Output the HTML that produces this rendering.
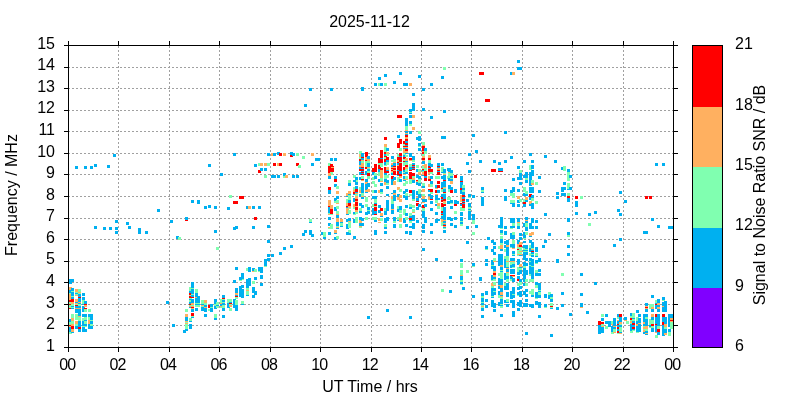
<!DOCTYPE html><html><head><meta charset="utf-8"><title>plot</title><style>html,body{margin:0;padding:0;background:#fff}svg{display:block;will-change:transform}text{font-family:"Liberation Sans",sans-serif;font-size:16px;fill:#000}</style></head><body>
<svg width="800" height="400" viewBox="0 0 800 400">
<rect width="800" height="400" fill="#fff"/>
<path d="M118.5 46V347M169.5 46V347M219.5 46V347M270.5 46V347M320.5 46V347M371.5 46V347M421.5 46V347M471.5 46V347M522.5 46V347M572.5 46V347M623.5 46V347" stroke="#a0a0a0" stroke-width="1" stroke-dasharray="2 2" fill="none" shape-rendering="crispEdges"/>
<path d="M68 325.5H673M68 304.5H673M68 282.5H673M68 261.5H673M68 239.5H673M68 218.5H673M68 196.5H673M68 174.5H673M68 153.5H673M68 131.5H673M68 110.5H673M68 88.5H673M68 67.5H673" stroke="#a0a0a0" stroke-width="1" stroke-dasharray="2 2" fill="none" shape-rendering="crispEdges"/>
<g shape-rendering="crispEdges"><rect x="75" y="166" width="3" height="3" fill="#00b0f0"/><rect x="84" y="166" width="3" height="3" fill="#00b0f0"/><rect x="90" y="166" width="3" height="3" fill="#00b0f0"/><rect x="94" y="164" width="3" height="3" fill="#00b0f0"/><rect x="107" y="165" width="3" height="3" fill="#00b0f0"/><rect x="113" y="154" width="3" height="3" fill="#00b0f0"/><rect x="208" y="164" width="3" height="3" fill="#00b0f0"/><rect x="220" y="173" width="3" height="3" fill="#00b0f0"/><rect x="233" y="153" width="3" height="3" fill="#00b0f0"/><rect x="254" y="164" width="3" height="3" fill="#00b0f0"/><rect x="258" y="163" width="3" height="3" fill="#80ffb0"/><rect x="258" y="170" width="3" height="3" fill="#ff0000"/><rect x="267" y="153" width="3" height="3" fill="#00b0f0"/><rect x="271" y="153" width="3" height="3" fill="#ffb060"/><rect x="273" y="153" width="3" height="3" fill="#00b0f0"/><rect x="277" y="152" width="3" height="3" fill="#00b0f0"/><rect x="279" y="153" width="3" height="3" fill="#ff0000"/><rect x="283" y="153" width="3" height="3" fill="#ffb060"/><rect x="290" y="154" width="3" height="3" fill="#ff0000"/><rect x="290" y="152" width="3" height="3" fill="#00b0f0"/><rect x="292" y="153" width="3" height="3" fill="#00b0f0"/><rect x="296" y="153" width="3" height="3" fill="#80ffb0"/><rect x="302" y="156" width="3" height="3" fill="#80ffb0"/><rect x="311" y="153" width="3" height="3" fill="#ffb060"/><rect x="315" y="158" width="3" height="3" fill="#00b0f0"/><rect x="317" y="158" width="3" height="3" fill="#00b0f0"/><rect x="260" y="163" width="3" height="3" fill="#ffb060"/><rect x="264" y="163" width="3" height="3" fill="#ffb060"/><rect x="267" y="163" width="3" height="3" fill="#80ffb0"/><rect x="273" y="163" width="3" height="3" fill="#ff0000"/><rect x="277" y="163" width="3" height="3" fill="#ffb060"/><rect x="279" y="163" width="3" height="3" fill="#ff0000"/><rect x="296" y="163" width="3" height="3" fill="#ff0000"/><rect x="298" y="165" width="3" height="3" fill="#80ffb0"/><rect x="311" y="163" width="3" height="3" fill="#00b0f0"/><rect x="260" y="168" width="3" height="3" fill="#00b0f0"/><rect x="264" y="168" width="3" height="3" fill="#00b0f0"/><rect x="264" y="175" width="3" height="3" fill="#80ffb0"/><rect x="271" y="175" width="3" height="3" fill="#00b0f0"/><rect x="273" y="175" width="3" height="3" fill="#00b0f0"/><rect x="277" y="175" width="3" height="3" fill="#00b0f0"/><rect x="283" y="175" width="3" height="3" fill="#80ffb0"/><rect x="283" y="173" width="3" height="3" fill="#00b0f0"/><rect x="285" y="175" width="3" height="3" fill="#ffb060"/><rect x="292" y="175" width="3" height="3" fill="#00b0f0"/><rect x="296" y="175" width="3" height="3" fill="#00b0f0"/><rect x="330" y="158" width="3" height="3" fill="#00b0f0"/><rect x="334" y="158" width="3" height="3" fill="#00b0f0"/><rect x="328" y="163" width="3" height="3" fill="#80ffb0"/><rect x="330" y="164" width="3" height="3" fill="#ff0000"/><rect x="328" y="166" width="3" height="7" fill="#ff0000"/><rect x="331" y="166" width="3" height="6" fill="#ff0000"/><rect x="330" y="172" width="3" height="3" fill="#80ffb0"/><rect x="328" y="173" width="3" height="3" fill="#ffb060"/><rect x="328" y="176" width="3" height="3" fill="#00b0f0"/><rect x="334" y="176" width="3" height="3" fill="#00b0f0"/><rect x="334" y="179" width="3" height="3" fill="#ff0000"/><rect x="334" y="184" width="3" height="3" fill="#00b0f0"/><rect x="336" y="186" width="3" height="3" fill="#80ffb0"/><rect x="328" y="187" width="3" height="3" fill="#ff0000"/><rect x="348" y="180" width="3" height="3" fill="#80ffb0"/><rect x="348" y="183" width="3" height="3" fill="#00b0f0"/><rect x="353" y="175" width="3" height="3" fill="#80ffb0"/><rect x="353" y="187" width="3" height="3" fill="#80ffb0"/><rect x="355" y="177" width="3" height="3" fill="#00b0f0"/><rect x="355" y="180" width="3" height="2" fill="#80ffb0"/><rect x="353" y="180" width="3" height="2" fill="#00b0f0"/><rect x="355" y="182" width="3" height="3" fill="#00b0f0"/><rect x="355" y="186" width="3" height="3" fill="#00b0f0"/><rect x="355" y="189" width="3" height="3" fill="#ff0000"/><rect x="359" y="151" width="3" height="3" fill="#80ffb0"/><rect x="359" y="154" width="3" height="3" fill="#ffb060"/><rect x="359" y="157" width="3" height="2" fill="#80ffb0"/><rect x="359" y="159" width="3" height="2" fill="#ff0000"/><rect x="359" y="161" width="3" height="4" fill="#00b0f0"/><rect x="359" y="165" width="3" height="2" fill="#ffb060"/><rect x="359" y="167" width="3" height="2" fill="#00b0f0"/><rect x="359" y="169" width="3" height="2" fill="#ff0000"/><rect x="359" y="172" width="3" height="3" fill="#00b0f0"/><rect x="359" y="177" width="3" height="3" fill="#00b0f0"/><rect x="359" y="187" width="3" height="3" fill="#80ffb0"/><rect x="361" y="153" width="3" height="4" fill="#00b0f0"/><rect x="361" y="157" width="3" height="1" fill="#ff0000"/><rect x="361" y="158" width="3" height="2" fill="#00b0f0"/><rect x="361" y="160" width="3" height="1" fill="#ffb060"/><rect x="361" y="161" width="3" height="2" fill="#80ffb0"/><rect x="361" y="163" width="3" height="4" fill="#ffb060"/><rect x="361" y="167" width="3" height="1" fill="#ff0000"/><rect x="361" y="168" width="3" height="1" fill="#00b0f0"/><rect x="361" y="169" width="3" height="2" fill="#ff0000"/><rect x="361" y="171" width="3" height="1" fill="#00b0f0"/><rect x="361" y="172" width="3" height="1" fill="#ff0000"/><rect x="361" y="173" width="3" height="1" fill="#00b0f0"/><rect x="361" y="174" width="3" height="1" fill="#ff0000"/><rect x="361" y="176" width="3" height="3" fill="#80ffb0"/><rect x="361" y="179" width="3" height="1" fill="#ff0000"/><rect x="361" y="180" width="3" height="1" fill="#ffb060"/><rect x="361" y="183" width="3" height="7" fill="#00b0f0"/><rect x="365" y="152" width="3" height="5" fill="#ff0000"/><rect x="365" y="157" width="3" height="3" fill="#ffb060"/><rect x="365" y="160" width="3" height="1" fill="#ff0000"/><rect x="365" y="161" width="3" height="6" fill="#80ffb0"/><rect x="365" y="167" width="3" height="2" fill="#ff0000"/><rect x="365" y="171" width="3" height="4" fill="#00b0f0"/><rect x="365" y="179" width="3" height="3" fill="#00b0f0"/><rect x="365" y="182" width="3" height="2" fill="#ffb060"/><rect x="365" y="184" width="3" height="6" fill="#00b0f0"/><rect x="367" y="156" width="3" height="3" fill="#00b0f0"/><rect x="367" y="159" width="3" height="2" fill="#ffb060"/><rect x="367" y="161" width="3" height="2" fill="#80ffb0"/><rect x="367" y="163" width="3" height="4" fill="#00b0f0"/><rect x="367" y="167" width="3" height="1" fill="#ffb060"/><rect x="367" y="168" width="3" height="1" fill="#80ffb0"/><rect x="367" y="169" width="3" height="2" fill="#00b0f0"/><rect x="367" y="171" width="3" height="2" fill="#80ffb0"/><rect x="367" y="173" width="3" height="3" fill="#ff0000"/><rect x="367" y="176" width="3" height="3" fill="#80ffb0"/><rect x="367" y="183" width="3" height="4" fill="#00b0f0"/><rect x="367" y="189" width="3" height="2" fill="#ffb060"/><rect x="372" y="168" width="3" height="4" fill="#ff0000"/><rect x="372" y="172" width="3" height="3" fill="#00b0f0"/><rect x="372" y="177" width="3" height="3" fill="#80ffb0"/><rect x="372" y="181" width="3" height="3" fill="#80ffb0"/><rect x="374" y="164" width="3" height="8" fill="#ff0000"/><rect x="374" y="173" width="3" height="3" fill="#80ffb0"/><rect x="374" y="176" width="3" height="3" fill="#00b0f0"/><rect x="374" y="184" width="3" height="3" fill="#80ffb0"/><rect x="378" y="158" width="3" height="5" fill="#ff0000"/><rect x="378" y="163" width="3" height="2" fill="#80ffb0"/><rect x="378" y="165" width="3" height="4" fill="#ff0000"/><rect x="378" y="169" width="3" height="3" fill="#00b0f0"/><rect x="378" y="172" width="3" height="4" fill="#80ffb0"/><rect x="378" y="179" width="3" height="3" fill="#00b0f0"/><rect x="380" y="150" width="3" height="8" fill="#ff0000"/><rect x="380" y="158" width="3" height="1" fill="#00b0f0"/><rect x="380" y="159" width="3" height="4" fill="#ff0000"/><rect x="380" y="163" width="3" height="4" fill="#80ffb0"/><rect x="380" y="168" width="3" height="2" fill="#ff0000"/><rect x="380" y="170" width="3" height="8" fill="#ffb060"/><rect x="380" y="178" width="3" height="3" fill="#80ffb0"/><rect x="380" y="181" width="3" height="1" fill="#ffb060"/><rect x="380" y="183" width="3" height="3" fill="#00b0f0"/><rect x="380" y="189" width="3" height="2" fill="#00b0f0"/><rect x="328" y="190" width="3" height="4" fill="#00b0f0"/><rect x="328" y="200" width="3" height="6" fill="#ffb060"/><rect x="328" y="206" width="3" height="1" fill="#ff0000"/><rect x="328" y="207" width="3" height="6" fill="#00b0f0"/><rect x="328" y="213" width="3" height="1" fill="#80ffb0"/><rect x="328" y="214" width="3" height="1" fill="#ffb060"/><rect x="328" y="217" width="3" height="3" fill="#00b0f0"/><rect x="330" y="205" width="3" height="4" fill="#ffb060"/><rect x="330" y="209" width="3" height="5" fill="#ff0000"/><rect x="330" y="214" width="3" height="1" fill="#80ffb0"/><rect x="334" y="198" width="3" height="3" fill="#00b0f0"/><rect x="334" y="201" width="3" height="2" fill="#80ffb0"/><rect x="334" y="207" width="3" height="4" fill="#00b0f0"/><rect x="336" y="191" width="3" height="3" fill="#ffb060"/><rect x="336" y="196" width="3" height="3" fill="#00b0f0"/><rect x="336" y="200" width="3" height="3" fill="#80ffb0"/><rect x="336" y="203" width="3" height="1" fill="#ffb060"/><rect x="336" y="206" width="3" height="3" fill="#80ffb0"/><rect x="336" y="211" width="3" height="3" fill="#80ffb0"/><rect x="336" y="214" width="3" height="1" fill="#ffb060"/><rect x="336" y="215" width="3" height="3" fill="#00b0f0"/><rect x="336" y="218" width="3" height="4" fill="#ffb060"/><rect x="340" y="219" width="3" height="3" fill="#ffb060"/><rect x="346" y="193" width="3" height="3" fill="#ffb060"/><rect x="346" y="196" width="3" height="1" fill="#00b0f0"/><rect x="346" y="199" width="3" height="4" fill="#80ffb0"/><rect x="346" y="203" width="3" height="3" fill="#ffb060"/><rect x="346" y="206" width="3" height="1" fill="#ff0000"/><rect x="346" y="207" width="3" height="1" fill="#00b0f0"/><rect x="346" y="208" width="3" height="6" fill="#ffb060"/><rect x="346" y="214" width="3" height="1" fill="#00b0f0"/><rect x="346" y="219" width="3" height="3" fill="#00b0f0"/><rect x="348" y="191" width="3" height="3" fill="#ffb060"/><rect x="348" y="194" width="3" height="1" fill="#00b0f0"/><rect x="348" y="195" width="3" height="5" fill="#80ffb0"/><rect x="348" y="200" width="3" height="3" fill="#00b0f0"/><rect x="348" y="203" width="3" height="3" fill="#ff0000"/><rect x="348" y="206" width="3" height="2" fill="#ffb060"/><rect x="348" y="208" width="3" height="1" fill="#80ffb0"/><rect x="348" y="210" width="3" height="4" fill="#80ffb0"/><rect x="348" y="218" width="3" height="3" fill="#00b0f0"/><rect x="348" y="221" width="3" height="1" fill="#ffb060"/><rect x="353" y="190" width="3" height="2" fill="#ffb060"/><rect x="353" y="192" width="3" height="2" fill="#ff0000"/><rect x="353" y="194" width="3" height="1" fill="#00b0f0"/><rect x="353" y="198" width="3" height="4" fill="#00b0f0"/><rect x="353" y="204" width="3" height="3" fill="#ffb060"/><rect x="353" y="207" width="3" height="2" fill="#80ffb0"/><rect x="353" y="212" width="3" height="2" fill="#00b0f0"/><rect x="353" y="214" width="3" height="1" fill="#80ffb0"/><rect x="353" y="219" width="3" height="3" fill="#00b0f0"/><rect x="355" y="190" width="3" height="2" fill="#ff0000"/><rect x="355" y="192" width="3" height="1" fill="#00b0f0"/><rect x="355" y="193" width="3" height="1" fill="#ffb060"/><rect x="355" y="194" width="3" height="2" fill="#80ffb0"/><rect x="355" y="196" width="3" height="3" fill="#ffb060"/><rect x="355" y="199" width="3" height="2" fill="#ff0000"/><rect x="355" y="201" width="3" height="1" fill="#ffb060"/><rect x="355" y="202" width="3" height="4" fill="#ff0000"/><rect x="355" y="206" width="3" height="1" fill="#ffb060"/><rect x="355" y="207" width="3" height="3" fill="#ff0000"/><rect x="355" y="210" width="3" height="2" fill="#ffb060"/><rect x="355" y="212" width="3" height="2" fill="#80ffb0"/><rect x="355" y="217" width="3" height="5" fill="#80ffb0"/><rect x="359" y="190" width="3" height="3" fill="#ffb060"/><rect x="359" y="194" width="3" height="3" fill="#00b0f0"/><rect x="359" y="203" width="3" height="3" fill="#00b0f0"/><rect x="359" y="208" width="3" height="3" fill="#80ffb0"/><rect x="359" y="211" width="3" height="2" fill="#00b0f0"/><rect x="359" y="217" width="3" height="3" fill="#00b0f0"/><rect x="359" y="220" width="3" height="2" fill="#ffb060"/><rect x="361" y="190" width="3" height="3" fill="#00b0f0"/><rect x="361" y="193" width="3" height="3" fill="#80ffb0"/><rect x="361" y="196" width="3" height="1" fill="#ffb060"/><rect x="361" y="197" width="3" height="2" fill="#00b0f0"/><rect x="361" y="205" width="3" height="3" fill="#00b0f0"/><rect x="361" y="218" width="3" height="3" fill="#00b0f0"/><rect x="365" y="190" width="3" height="2" fill="#ffb060"/><rect x="365" y="192" width="3" height="1" fill="#00b0f0"/><rect x="365" y="197" width="3" height="5" fill="#80ffb0"/><rect x="365" y="204" width="3" height="3" fill="#80ffb0"/><rect x="365" y="212" width="3" height="3" fill="#00b0f0"/><rect x="365" y="217" width="3" height="3" fill="#80ffb0"/><rect x="367" y="190" width="3" height="2" fill="#ffb060"/><rect x="367" y="207" width="3" height="3" fill="#00b0f0"/><rect x="367" y="210" width="3" height="1" fill="#80ffb0"/><rect x="367" y="211" width="3" height="3" fill="#00b0f0"/><rect x="372" y="190" width="3" height="3" fill="#80ffb0"/><rect x="372" y="196" width="3" height="3" fill="#00b0f0"/><rect x="372" y="204" width="3" height="3" fill="#80ffb0"/><rect x="372" y="208" width="3" height="7" fill="#00b0f0"/><rect x="372" y="217" width="3" height="3" fill="#80ffb0"/><rect x="374" y="190" width="3" height="3" fill="#00b0f0"/><rect x="374" y="196" width="3" height="3" fill="#00b0f0"/><rect x="374" y="199" width="3" height="4" fill="#80ffb0"/><rect x="374" y="203" width="3" height="1" fill="#00b0f0"/><rect x="374" y="204" width="3" height="2" fill="#ff0000"/><rect x="374" y="206" width="3" height="1" fill="#80ffb0"/><rect x="374" y="207" width="3" height="4" fill="#ff0000"/><rect x="374" y="211" width="3" height="3" fill="#00b0f0"/><rect x="374" y="214" width="3" height="1" fill="#ff0000"/><rect x="374" y="217" width="3" height="3" fill="#80ffb0"/><rect x="374" y="220" width="3" height="2" fill="#00b0f0"/><rect x="378" y="190" width="3" height="3" fill="#ffb060"/><rect x="378" y="205" width="3" height="3" fill="#00b0f0"/><rect x="378" y="210" width="3" height="3" fill="#00b0f0"/><rect x="378" y="218" width="3" height="3" fill="#ffb060"/><rect x="380" y="190" width="3" height="2" fill="#00b0f0"/><rect x="380" y="192" width="3" height="2" fill="#80ffb0"/><rect x="380" y="208" width="3" height="3" fill="#ff0000"/><rect x="380" y="213" width="3" height="3" fill="#ffb060"/><rect x="380" y="216" width="3" height="1" fill="#00b0f0"/><rect x="380" y="218" width="3" height="3" fill="#80ffb0"/><rect x="321" y="232" width="3" height="3" fill="#00b0f0"/><rect x="323" y="232" width="3" height="5" fill="#80ffb0"/><rect x="323" y="237" width="3" height="2" fill="#00b0f0"/><rect x="328" y="223" width="3" height="3" fill="#00b0f0"/><rect x="328" y="227" width="3" height="1" fill="#ffb060"/><rect x="328" y="228" width="3" height="1" fill="#80ffb0"/><rect x="330" y="224" width="3" height="5" fill="#80ffb0"/><rect x="328" y="232" width="3" height="3" fill="#00b0f0"/><rect x="334" y="230" width="3" height="3" fill="#ffb060"/><rect x="334" y="233" width="3" height="1" fill="#00b0f0"/><rect x="334" y="237" width="3" height="3" fill="#00b0f0"/><rect x="336" y="222" width="3" height="4" fill="#00b0f0"/><rect x="336" y="226" width="3" height="1" fill="#80ffb0"/><rect x="336" y="227" width="3" height="1" fill="#ffb060"/><rect x="336" y="228" width="3" height="1" fill="#00b0f0"/><rect x="336" y="236" width="3" height="3" fill="#80ffb0"/><rect x="340" y="222" width="3" height="1" fill="#00b0f0"/><rect x="340" y="223" width="3" height="3" fill="#80ffb0"/><rect x="340" y="226" width="3" height="1" fill="#00b0f0"/><rect x="346" y="224" width="3" height="5" fill="#00b0f0"/><rect x="348" y="222" width="3" height="2" fill="#80ffb0"/><rect x="348" y="224" width="3" height="4" fill="#80ffb0"/><rect x="348" y="230" width="3" height="3" fill="#80ffb0"/><rect x="346" y="232" width="3" height="3" fill="#00b0f0"/><rect x="348" y="233" width="3" height="2" fill="#00b0f0"/><rect x="353" y="222" width="3" height="1" fill="#00b0f0"/><rect x="355" y="222" width="3" height="1" fill="#80ffb0"/><rect x="353" y="236" width="3" height="3" fill="#00b0f0"/><rect x="359" y="222" width="3" height="1" fill="#ffb060"/><rect x="359" y="223" width="3" height="3" fill="#00b0f0"/><rect x="361" y="223" width="3" height="3" fill="#00b0f0"/><rect x="359" y="226" width="3" height="1" fill="#ffb060"/><rect x="359" y="227" width="3" height="1" fill="#80ffb0"/><rect x="374" y="230" width="3" height="5" fill="#00b0f0"/><rect x="378" y="222" width="3" height="1" fill="#ffb060"/><rect x="384" y="137" width="3" height="3" fill="#ff0000"/><rect x="384" y="144" width="3" height="3" fill="#ffb060"/><rect x="384" y="147" width="3" height="5" fill="#80ffb0"/><rect x="384" y="152" width="3" height="2" fill="#ff0000"/><rect x="384" y="154" width="3" height="2" fill="#00b0f0"/><rect x="384" y="156" width="3" height="1" fill="#ff0000"/><rect x="384" y="157" width="3" height="2" fill="#80ffb0"/><rect x="384" y="159" width="3" height="3" fill="#ff0000"/><rect x="386" y="148" width="3" height="3" fill="#00b0f0"/><rect x="386" y="152" width="3" height="2" fill="#ffb060"/><rect x="386" y="154" width="3" height="2" fill="#80ffb0"/><rect x="386" y="157" width="3" height="3" fill="#ff0000"/><rect x="386" y="160" width="3" height="2" fill="#00b0f0"/><rect x="391" y="156" width="3" height="3" fill="#00b0f0"/><rect x="391" y="160" width="3" height="2" fill="#80ffb0"/><rect x="393" y="159" width="3" height="3" fill="#80ffb0"/><rect x="397" y="135" width="3" height="3" fill="#00b0f0"/><rect x="397" y="143" width="3" height="5" fill="#ff0000"/><rect x="397" y="154" width="3" height="3" fill="#80ffb0"/><rect x="397" y="157" width="3" height="3" fill="#ff0000"/><rect x="397" y="160" width="3" height="2" fill="#ffb060"/><rect x="399" y="139" width="3" height="5" fill="#ff0000"/><rect x="399" y="148" width="3" height="3" fill="#80ffb0"/><rect x="399" y="153" width="3" height="3" fill="#ff0000"/><rect x="399" y="156" width="3" height="1" fill="#00b0f0"/><rect x="399" y="157" width="3" height="5" fill="#ff0000"/><rect x="403" y="141" width="3" height="3" fill="#ff0000"/><rect x="403" y="144" width="3" height="2" fill="#80ffb0"/><rect x="403" y="146" width="3" height="1" fill="#ff0000"/><rect x="403" y="147" width="3" height="1" fill="#ffb060"/><rect x="403" y="148" width="3" height="1" fill="#00b0f0"/><rect x="403" y="149" width="3" height="4" fill="#ffb060"/><rect x="403" y="153" width="3" height="2" fill="#80ffb0"/><rect x="403" y="155" width="3" height="2" fill="#00b0f0"/><rect x="403" y="157" width="3" height="2" fill="#ff0000"/><rect x="403" y="159" width="3" height="2" fill="#80ffb0"/><rect x="403" y="161" width="3" height="1" fill="#ff0000"/><rect x="405" y="130" width="3" height="1" fill="#ffb060"/><rect x="405" y="131" width="3" height="2" fill="#00b0f0"/><rect x="405" y="133" width="3" height="1" fill="#ffb060"/><rect x="405" y="134" width="3" height="1" fill="#00b0f0"/><rect x="405" y="135" width="3" height="2" fill="#ff0000"/><rect x="405" y="137" width="3" height="2" fill="#ffb060"/><rect x="405" y="139" width="3" height="2" fill="#ff0000"/><rect x="405" y="141" width="3" height="2" fill="#00b0f0"/><rect x="405" y="143" width="3" height="2" fill="#ff0000"/><rect x="405" y="145" width="3" height="1" fill="#00b0f0"/><rect x="405" y="146" width="3" height="1" fill="#ff0000"/><rect x="405" y="147" width="3" height="1" fill="#ffb060"/><rect x="405" y="148" width="3" height="1" fill="#00b0f0"/><rect x="405" y="149" width="3" height="2" fill="#ff0000"/><rect x="405" y="151" width="3" height="2" fill="#ffb060"/><rect x="405" y="153" width="3" height="1" fill="#00b0f0"/><rect x="405" y="155" width="3" height="2" fill="#80ffb0"/><rect x="405" y="158" width="3" height="3" fill="#ffb060"/><rect x="405" y="161" width="3" height="1" fill="#00b0f0"/><rect x="409" y="131" width="3" height="3" fill="#00b0f0"/><rect x="409" y="153" width="3" height="4" fill="#00b0f0"/><rect x="409" y="158" width="3" height="2" fill="#ff0000"/><rect x="409" y="160" width="3" height="1" fill="#ffb060"/><rect x="412" y="156" width="3" height="4" fill="#00b0f0"/><rect x="412" y="160" width="3" height="2" fill="#80ffb0"/><rect x="416" y="137" width="3" height="3" fill="#00b0f0"/><rect x="418" y="131" width="3" height="3" fill="#80ffb0"/><rect x="418" y="136" width="3" height="5" fill="#00b0f0"/><rect x="418" y="143" width="3" height="3" fill="#00b0f0"/><rect x="418" y="146" width="3" height="1" fill="#80ffb0"/><rect x="418" y="148" width="3" height="3" fill="#00b0f0"/><rect x="422" y="142" width="3" height="3" fill="#80ffb0"/><rect x="422" y="145" width="3" height="1" fill="#ffb060"/><rect x="422" y="146" width="3" height="5" fill="#ff0000"/><rect x="422" y="151" width="3" height="1" fill="#ffb060"/><rect x="422" y="152" width="3" height="2" fill="#ff0000"/><rect x="422" y="154" width="3" height="2" fill="#80ffb0"/><rect x="422" y="156" width="3" height="2" fill="#ffb060"/><rect x="422" y="158" width="3" height="2" fill="#ff0000"/><rect x="422" y="160" width="3" height="1" fill="#ffb060"/><rect x="422" y="161" width="3" height="1" fill="#00b0f0"/><rect x="424" y="148" width="3" height="3" fill="#00b0f0"/><rect x="424" y="151" width="3" height="3" fill="#80ffb0"/><rect x="428" y="155" width="3" height="3" fill="#ffb060"/><rect x="428" y="158" width="3" height="2" fill="#ff0000"/><rect x="428" y="160" width="3" height="2" fill="#80ffb0"/><rect x="441" y="136" width="5" height="3" fill="#00b0f0"/><rect x="384" y="162" width="3" height="3" fill="#00b0f0"/><rect x="384" y="165" width="3" height="1" fill="#80ffb0"/><rect x="384" y="167" width="3" height="6" fill="#ff0000"/><rect x="384" y="173" width="3" height="2" fill="#00b0f0"/><rect x="384" y="175" width="3" height="4" fill="#80ffb0"/><rect x="384" y="179" width="3" height="3" fill="#00b0f0"/><rect x="384" y="182" width="3" height="3" fill="#ffb060"/><rect x="386" y="162" width="3" height="3" fill="#80ffb0"/><rect x="386" y="167" width="3" height="3" fill="#ffb060"/><rect x="386" y="170" width="3" height="1" fill="#00b0f0"/><rect x="386" y="171" width="3" height="2" fill="#ff0000"/><rect x="386" y="175" width="3" height="3" fill="#80ffb0"/><rect x="386" y="180" width="3" height="3" fill="#00b0f0"/><rect x="386" y="183" width="3" height="2" fill="#80ffb0"/><rect x="386" y="186" width="3" height="3" fill="#00b0f0"/><rect x="391" y="163" width="3" height="2" fill="#ffb060"/><rect x="391" y="165" width="3" height="2" fill="#00b0f0"/><rect x="391" y="167" width="3" height="1" fill="#ffb060"/><rect x="391" y="168" width="3" height="1" fill="#ff0000"/><rect x="391" y="169" width="3" height="1" fill="#ffb060"/><rect x="391" y="170" width="3" height="1" fill="#ff0000"/><rect x="391" y="171" width="3" height="1" fill="#ffb060"/><rect x="391" y="172" width="3" height="1" fill="#80ffb0"/><rect x="391" y="173" width="3" height="2" fill="#00b0f0"/><rect x="391" y="176" width="3" height="3" fill="#ff0000"/><rect x="391" y="179" width="3" height="6" fill="#00b0f0"/><rect x="391" y="193" width="3" height="1" fill="#00b0f0"/><rect x="393" y="162" width="3" height="1" fill="#ffb060"/><rect x="393" y="163" width="3" height="3" fill="#00b0f0"/><rect x="393" y="166" width="3" height="1" fill="#ff0000"/><rect x="393" y="167" width="3" height="1" fill="#ffb060"/><rect x="393" y="168" width="3" height="2" fill="#ff0000"/><rect x="393" y="170" width="3" height="1" fill="#ffb060"/><rect x="393" y="171" width="3" height="4" fill="#ff0000"/><rect x="393" y="177" width="3" height="3" fill="#00b0f0"/><rect x="393" y="181" width="3" height="4" fill="#ffb060"/><rect x="393" y="190" width="3" height="3" fill="#00b0f0"/><rect x="393" y="193" width="3" height="1" fill="#ffb060"/><rect x="397" y="162" width="3" height="1" fill="#ff0000"/><rect x="397" y="163" width="3" height="2" fill="#00b0f0"/><rect x="397" y="165" width="3" height="1" fill="#ffb060"/><rect x="397" y="166" width="3" height="4" fill="#ff0000"/><rect x="397" y="170" width="3" height="1" fill="#00b0f0"/><rect x="397" y="171" width="3" height="4" fill="#ff0000"/><rect x="397" y="175" width="3" height="1" fill="#00b0f0"/><rect x="397" y="177" width="3" height="5" fill="#80ffb0"/><rect x="397" y="187" width="3" height="3" fill="#ffb060"/><rect x="399" y="162" width="3" height="1" fill="#80ffb0"/><rect x="399" y="163" width="3" height="8" fill="#ff0000"/><rect x="399" y="171" width="3" height="3" fill="#00b0f0"/><rect x="399" y="174" width="3" height="2" fill="#ff0000"/><rect x="399" y="176" width="3" height="2" fill="#ffb060"/><rect x="399" y="179" width="3" height="3" fill="#00b0f0"/><rect x="399" y="189" width="3" height="3" fill="#80ffb0"/><rect x="403" y="162" width="3" height="4" fill="#80ffb0"/><rect x="403" y="167" width="3" height="3" fill="#ff0000"/><rect x="403" y="170" width="3" height="2" fill="#00b0f0"/><rect x="403" y="172" width="3" height="1" fill="#80ffb0"/><rect x="403" y="173" width="3" height="1" fill="#00b0f0"/><rect x="403" y="174" width="3" height="1" fill="#ffb060"/><rect x="403" y="176" width="3" height="3" fill="#00b0f0"/><rect x="403" y="179" width="3" height="1" fill="#ffb060"/><rect x="403" y="180" width="3" height="1" fill="#00b0f0"/><rect x="403" y="183" width="3" height="3" fill="#80ffb0"/><rect x="403" y="191" width="3" height="3" fill="#00b0f0"/><rect x="405" y="162" width="3" height="3" fill="#80ffb0"/><rect x="405" y="165" width="3" height="2" fill="#ff0000"/><rect x="405" y="167" width="3" height="2" fill="#ffb060"/><rect x="405" y="169" width="3" height="3" fill="#80ffb0"/><rect x="405" y="172" width="3" height="2" fill="#00b0f0"/><rect x="405" y="176" width="3" height="3" fill="#80ffb0"/><rect x="405" y="179" width="3" height="1" fill="#ffb060"/><rect x="405" y="181" width="3" height="3" fill="#80ffb0"/><rect x="405" y="189" width="3" height="3" fill="#00b0f0"/><rect x="405" y="193" width="3" height="1" fill="#80ffb0"/><rect x="409" y="164" width="3" height="3" fill="#80ffb0"/><rect x="409" y="167" width="3" height="3" fill="#00b0f0"/><rect x="409" y="170" width="3" height="1" fill="#ff0000"/><rect x="409" y="172" width="3" height="7" fill="#ff0000"/><rect x="409" y="179" width="3" height="5" fill="#80ffb0"/><rect x="409" y="190" width="3" height="3" fill="#ff0000"/><rect x="412" y="163" width="3" height="2" fill="#00b0f0"/><rect x="412" y="165" width="3" height="1" fill="#ff0000"/><rect x="412" y="166" width="3" height="1" fill="#00b0f0"/><rect x="412" y="167" width="3" height="1" fill="#ff0000"/><rect x="412" y="168" width="3" height="1" fill="#00b0f0"/><rect x="412" y="169" width="3" height="1" fill="#ff0000"/><rect x="412" y="173" width="3" height="3" fill="#ff0000"/><rect x="412" y="176" width="3" height="2" fill="#80ffb0"/><rect x="412" y="178" width="3" height="2" fill="#ffb060"/><rect x="412" y="180" width="3" height="3" fill="#00b0f0"/><rect x="412" y="190" width="3" height="4" fill="#00b0f0"/><rect x="416" y="165" width="3" height="3" fill="#80ffb0"/><rect x="416" y="169" width="3" height="3" fill="#00b0f0"/><rect x="416" y="175" width="3" height="3" fill="#00b0f0"/><rect x="416" y="180" width="3" height="1" fill="#ff0000"/><rect x="416" y="181" width="3" height="1" fill="#ffb060"/><rect x="416" y="182" width="3" height="3" fill="#00b0f0"/><rect x="416" y="191" width="3" height="3" fill="#00b0f0"/><rect x="418" y="169" width="3" height="3" fill="#80ffb0"/><rect x="418" y="172" width="3" height="3" fill="#ffb060"/><rect x="418" y="176" width="3" height="3" fill="#00b0f0"/><rect x="418" y="179" width="3" height="4" fill="#80ffb0"/><rect x="418" y="183" width="3" height="3" fill="#00b0f0"/><rect x="418" y="189" width="3" height="5" fill="#80ffb0"/><rect x="422" y="162" width="3" height="2" fill="#00b0f0"/><rect x="422" y="165" width="3" height="1" fill="#ffb060"/><rect x="422" y="166" width="3" height="3" fill="#80ffb0"/><rect x="422" y="169" width="3" height="1" fill="#ff0000"/><rect x="422" y="170" width="3" height="1" fill="#00b0f0"/><rect x="422" y="171" width="3" height="1" fill="#80ffb0"/><rect x="422" y="172" width="3" height="3" fill="#ffb060"/><rect x="422" y="175" width="3" height="1" fill="#00b0f0"/><rect x="422" y="183" width="3" height="3" fill="#80ffb0"/><rect x="422" y="186" width="3" height="2" fill="#00b0f0"/><rect x="422" y="189" width="3" height="3" fill="#ffb060"/><rect x="424" y="164" width="3" height="4" fill="#ffb060"/><rect x="424" y="168" width="3" height="3" fill="#80ffb0"/><rect x="424" y="171" width="3" height="5" fill="#ff0000"/><rect x="424" y="176" width="3" height="2" fill="#00b0f0"/><rect x="424" y="178" width="3" height="3" fill="#ff0000"/><rect x="428" y="162" width="3" height="1" fill="#80ffb0"/><rect x="428" y="163" width="3" height="3" fill="#00b0f0"/><rect x="428" y="166" width="3" height="2" fill="#ff0000"/><rect x="428" y="168" width="3" height="1" fill="#00b0f0"/><rect x="428" y="169" width="3" height="3" fill="#ff0000"/><rect x="428" y="172" width="3" height="2" fill="#ffb060"/><rect x="428" y="176" width="3" height="3" fill="#ffb060"/><rect x="428" y="179" width="3" height="2" fill="#ff0000"/><rect x="428" y="184" width="3" height="3" fill="#ffb060"/><rect x="428" y="189" width="3" height="1" fill="#ff0000"/><rect x="428" y="190" width="3" height="2" fill="#00b0f0"/><rect x="430" y="164" width="3" height="3" fill="#00b0f0"/><rect x="430" y="169" width="3" height="3" fill="#ff0000"/><rect x="430" y="172" width="3" height="2" fill="#80ffb0"/><rect x="430" y="176" width="3" height="3" fill="#00b0f0"/><rect x="430" y="181" width="3" height="3" fill="#00b0f0"/><rect x="430" y="184" width="3" height="3" fill="#80ffb0"/><rect x="430" y="189" width="3" height="3" fill="#ff0000"/><rect x="430" y="192" width="3" height="2" fill="#80ffb0"/><rect x="435" y="176" width="3" height="3" fill="#80ffb0"/><rect x="435" y="185" width="3" height="3" fill="#00b0f0"/><rect x="435" y="188" width="3" height="1" fill="#ffb060"/><rect x="435" y="190" width="3" height="3" fill="#ff0000"/><rect x="437" y="163" width="3" height="3" fill="#00b0f0"/><rect x="437" y="166" width="3" height="1" fill="#ff0000"/><rect x="437" y="167" width="3" height="1" fill="#00b0f0"/><rect x="437" y="168" width="3" height="2" fill="#ffb060"/><rect x="437" y="170" width="3" height="1" fill="#ff0000"/><rect x="437" y="171" width="3" height="1" fill="#00b0f0"/><rect x="437" y="172" width="3" height="3" fill="#ff0000"/><rect x="437" y="176" width="3" height="3" fill="#80ffb0"/><rect x="437" y="181" width="3" height="3" fill="#ff0000"/><rect x="437" y="185" width="3" height="3" fill="#ff0000"/><rect x="437" y="190" width="3" height="3" fill="#00b0f0"/><rect x="441" y="163" width="3" height="3" fill="#00b0f0"/><rect x="441" y="167" width="3" height="5" fill="#80ffb0"/><rect x="441" y="172" width="3" height="1" fill="#00b0f0"/><rect x="441" y="176" width="3" height="3" fill="#00b0f0"/><rect x="441" y="182" width="3" height="6" fill="#00b0f0"/><rect x="441" y="188" width="3" height="1" fill="#ff0000"/><rect x="441" y="189" width="3" height="3" fill="#80ffb0"/><rect x="443" y="169" width="3" height="4" fill="#00b0f0"/><rect x="443" y="173" width="3" height="1" fill="#80ffb0"/><rect x="443" y="174" width="3" height="1" fill="#ffb060"/><rect x="443" y="175" width="3" height="5" fill="#00b0f0"/><rect x="443" y="180" width="3" height="1" fill="#ff0000"/><rect x="443" y="181" width="3" height="6" fill="#00b0f0"/><rect x="443" y="187" width="3" height="1" fill="#ffb060"/><rect x="443" y="188" width="3" height="1" fill="#80ffb0"/><rect x="443" y="189" width="3" height="3" fill="#00b0f0"/><rect x="443" y="192" width="3" height="1" fill="#ff0000"/><rect x="443" y="193" width="3" height="1" fill="#80ffb0"/><rect x="447" y="168" width="3" height="3" fill="#00b0f0"/><rect x="447" y="176" width="3" height="3" fill="#80ffb0"/><rect x="384" y="208" width="3" height="3" fill="#80ffb0"/><rect x="384" y="211" width="3" height="4" fill="#00b0f0"/><rect x="384" y="218" width="3" height="5" fill="#00b0f0"/><rect x="384" y="224" width="3" height="2" fill="#80ffb0"/><rect x="386" y="194" width="3" height="2" fill="#00b0f0"/><rect x="386" y="200" width="3" height="11" fill="#00b0f0"/><rect x="386" y="217" width="3" height="4" fill="#00b0f0"/><rect x="391" y="196" width="3" height="3" fill="#ffb060"/><rect x="391" y="199" width="3" height="5" fill="#80ffb0"/><rect x="391" y="204" width="3" height="5" fill="#00b0f0"/><rect x="391" y="209" width="3" height="1" fill="#ffb060"/><rect x="391" y="210" width="3" height="4" fill="#00b0f0"/><rect x="393" y="194" width="3" height="1" fill="#ffb060"/><rect x="393" y="195" width="3" height="6" fill="#00b0f0"/><rect x="393" y="217" width="3" height="4" fill="#00b0f0"/><rect x="393" y="221" width="3" height="2" fill="#80ffb0"/><rect x="393" y="224" width="3" height="2" fill="#00b0f0"/><rect x="397" y="194" width="3" height="3" fill="#00b0f0"/><rect x="397" y="197" width="3" height="3" fill="#ffb060"/><rect x="397" y="206" width="3" height="3" fill="#80ffb0"/><rect x="397" y="209" width="3" height="3" fill="#00b0f0"/><rect x="397" y="217" width="3" height="3" fill="#80ffb0"/><rect x="397" y="220" width="3" height="1" fill="#00b0f0"/><rect x="399" y="195" width="3" height="3" fill="#ffb060"/><rect x="399" y="199" width="3" height="3" fill="#ffb060"/><rect x="399" y="206" width="3" height="4" fill="#00b0f0"/><rect x="399" y="210" width="3" height="3" fill="#80ffb0"/><rect x="399" y="214" width="3" height="4" fill="#80ffb0"/><rect x="399" y="218" width="3" height="4" fill="#ffb060"/><rect x="399" y="224" width="3" height="2" fill="#80ffb0"/><rect x="403" y="195" width="3" height="3" fill="#00b0f0"/><rect x="403" y="209" width="3" height="6" fill="#80ffb0"/><rect x="403" y="218" width="3" height="5" fill="#00b0f0"/><rect x="405" y="194" width="3" height="2" fill="#80ffb0"/><rect x="405" y="196" width="3" height="4" fill="#00b0f0"/><rect x="405" y="205" width="3" height="3" fill="#00b0f0"/><rect x="405" y="213" width="3" height="3" fill="#00b0f0"/><rect x="405" y="217" width="3" height="3" fill="#80ffb0"/><rect x="405" y="224" width="3" height="2" fill="#00b0f0"/><rect x="409" y="194" width="3" height="2" fill="#80ffb0"/><rect x="409" y="204" width="3" height="3" fill="#80ffb0"/><rect x="409" y="207" width="3" height="2" fill="#00b0f0"/><rect x="409" y="213" width="3" height="3" fill="#80ffb0"/><rect x="409" y="216" width="3" height="2" fill="#00b0f0"/><rect x="409" y="218" width="3" height="2" fill="#ff0000"/><rect x="409" y="220" width="3" height="1" fill="#00b0f0"/><rect x="409" y="221" width="3" height="2" fill="#80ffb0"/><rect x="412" y="194" width="3" height="5" fill="#00b0f0"/><rect x="412" y="199" width="3" height="2" fill="#80ffb0"/><rect x="412" y="205" width="3" height="3" fill="#80ffb0"/><rect x="412" y="209" width="3" height="3" fill="#80ffb0"/><rect x="412" y="212" width="3" height="1" fill="#ffb060"/><rect x="412" y="215" width="3" height="6" fill="#00b0f0"/><rect x="412" y="223" width="3" height="3" fill="#00b0f0"/><rect x="416" y="194" width="3" height="1" fill="#00b0f0"/><rect x="416" y="197" width="3" height="1" fill="#ffb060"/><rect x="416" y="198" width="3" height="3" fill="#00b0f0"/><rect x="416" y="201" width="3" height="1" fill="#ff0000"/><rect x="416" y="203" width="3" height="3" fill="#ff0000"/><rect x="416" y="207" width="3" height="3" fill="#00b0f0"/><rect x="416" y="220" width="3" height="3" fill="#00b0f0"/><rect x="418" y="194" width="3" height="4" fill="#00b0f0"/><rect x="418" y="204" width="3" height="3" fill="#00b0f0"/><rect x="422" y="194" width="3" height="2" fill="#80ffb0"/><rect x="422" y="196" width="3" height="3" fill="#ffb060"/><rect x="422" y="199" width="3" height="3" fill="#00b0f0"/><rect x="422" y="202" width="3" height="1" fill="#ffb060"/><rect x="422" y="205" width="3" height="3" fill="#ff0000"/><rect x="422" y="208" width="3" height="3" fill="#80ffb0"/><rect x="422" y="211" width="3" height="7" fill="#00b0f0"/><rect x="422" y="224" width="3" height="2" fill="#00b0f0"/><rect x="424" y="199" width="3" height="3" fill="#00b0f0"/><rect x="424" y="204" width="3" height="3" fill="#00b0f0"/><rect x="424" y="217" width="3" height="6" fill="#00b0f0"/><rect x="428" y="194" width="3" height="2" fill="#00b0f0"/><rect x="428" y="197" width="3" height="3" fill="#ffb060"/><rect x="430" y="195" width="3" height="4" fill="#00b0f0"/><rect x="430" y="199" width="3" height="1" fill="#ff0000"/><rect x="430" y="201" width="3" height="3" fill="#00b0f0"/><rect x="430" y="208" width="3" height="3" fill="#00b0f0"/><rect x="430" y="223" width="3" height="3" fill="#00b0f0"/><rect x="435" y="194" width="3" height="1" fill="#ffb060"/><rect x="435" y="195" width="3" height="5" fill="#00b0f0"/><rect x="435" y="200" width="3" height="3" fill="#80ffb0"/><rect x="435" y="204" width="3" height="2" fill="#00b0f0"/><rect x="435" y="212" width="3" height="3" fill="#00b0f0"/><rect x="435" y="219" width="3" height="4" fill="#00b0f0"/><rect x="437" y="198" width="3" height="2" fill="#00b0f0"/><rect x="437" y="203" width="3" height="3" fill="#ffb060"/><rect x="437" y="206" width="3" height="3" fill="#80ffb0"/><rect x="437" y="219" width="3" height="2" fill="#00b0f0"/><rect x="441" y="194" width="3" height="3" fill="#00b0f0"/><rect x="441" y="197" width="3" height="2" fill="#ff0000"/><rect x="441" y="199" width="3" height="1" fill="#00b0f0"/><rect x="441" y="200" width="3" height="2" fill="#ff0000"/><rect x="441" y="203" width="3" height="4" fill="#ff0000"/><rect x="441" y="207" width="3" height="4" fill="#80ffb0"/><rect x="441" y="211" width="3" height="2" fill="#ff0000"/><rect x="441" y="213" width="3" height="1" fill="#00b0f0"/><rect x="441" y="214" width="3" height="1" fill="#ff0000"/><rect x="441" y="215" width="3" height="1" fill="#80ffb0"/><rect x="441" y="216" width="3" height="3" fill="#00b0f0"/><rect x="441" y="219" width="3" height="3" fill="#ffb060"/><rect x="441" y="222" width="3" height="4" fill="#80ffb0"/><rect x="443" y="194" width="3" height="5" fill="#00b0f0"/><rect x="443" y="199" width="3" height="2" fill="#ff0000"/><rect x="443" y="201" width="3" height="2" fill="#ffb060"/><rect x="443" y="203" width="3" height="1" fill="#80ffb0"/><rect x="443" y="204" width="3" height="2" fill="#ff0000"/><rect x="443" y="207" width="3" height="13" fill="#00b0f0"/><rect x="443" y="220" width="3" height="1" fill="#ffb060"/><rect x="443" y="221" width="3" height="2" fill="#00b0f0"/><rect x="443" y="223" width="3" height="1" fill="#ffb060"/><rect x="443" y="224" width="3" height="1" fill="#00b0f0"/><rect x="443" y="225" width="3" height="1" fill="#ff0000"/><rect x="447" y="197" width="3" height="3" fill="#80ffb0"/><rect x="447" y="201" width="3" height="3" fill="#00b0f0"/><rect x="447" y="217" width="3" height="3" fill="#00b0f0"/><rect x="384" y="226" width="3" height="1" fill="#80ffb0"/><rect x="384" y="227" width="3" height="2" fill="#00b0f0"/><rect x="384" y="231" width="3" height="3" fill="#00b0f0"/><rect x="393" y="226" width="3" height="2" fill="#00b0f0"/><rect x="399" y="226" width="3" height="2" fill="#80ffb0"/><rect x="405" y="226" width="3" height="1" fill="#00b0f0"/><rect x="409" y="226" width="3" height="2" fill="#00b0f0"/><rect x="412" y="226" width="3" height="3" fill="#00b0f0"/><rect x="405" y="231" width="3" height="3" fill="#00b0f0"/><rect x="409" y="231" width="3" height="4" fill="#00b0f0"/><rect x="422" y="226" width="3" height="3" fill="#00b0f0"/><rect x="422" y="230" width="3" height="3" fill="#00b0f0"/><rect x="430" y="231" width="3" height="3" fill="#00b0f0"/><rect x="443" y="226" width="3" height="1" fill="#ffb060"/><rect x="443" y="227" width="3" height="1" fill="#00b0f0"/><rect x="443" y="228" width="3" height="1" fill="#80ffb0"/><rect x="443" y="230" width="3" height="3" fill="#00b0f0"/><rect x="422" y="248" width="3" height="3" fill="#00b0f0"/><rect x="504" y="131" width="3" height="3" fill="#00b0f0"/><rect x="472" y="134" width="3" height="3" fill="#00b0f0"/><rect x="475" y="150" width="3" height="3" fill="#00b0f0"/><rect x="468" y="153" width="3" height="3" fill="#00b0f0"/><rect x="510" y="156" width="3" height="3" fill="#00b0f0"/><rect x="479" y="160" width="3" height="3" fill="#00b0f0"/><rect x="493" y="160" width="3" height="3" fill="#00b0f0"/><rect x="504" y="160" width="3" height="3" fill="#00b0f0"/><rect x="466" y="162" width="3" height="3" fill="#00b0f0"/><rect x="498" y="162" width="3" height="3" fill="#00b0f0"/><rect x="468" y="170" width="3" height="3" fill="#00b0f0"/><rect x="491" y="169" width="5" height="3" fill="#ff0000"/><rect x="498" y="168" width="5" height="3" fill="#00b0f0"/><rect x="498" y="171" width="5" height="1" fill="#ff0000"/><rect x="448" y="168" width="3" height="4" fill="#00b0f0"/><rect x="448" y="172" width="3" height="1" fill="#ffb060"/><rect x="448" y="173" width="3" height="5" fill="#80ffb0"/><rect x="448" y="178" width="3" height="3" fill="#00b0f0"/><rect x="448" y="185" width="3" height="5" fill="#00b0f0"/><rect x="448" y="189" width="3" height="3" fill="#80ffb0"/><rect x="450" y="170" width="3" height="3" fill="#00b0f0"/><rect x="450" y="173" width="3" height="3" fill="#80ffb0"/><rect x="450" y="176" width="3" height="2" fill="#00b0f0"/><rect x="450" y="178" width="3" height="1" fill="#80ffb0"/><rect x="450" y="179" width="3" height="2" fill="#00b0f0"/><rect x="450" y="181" width="3" height="3" fill="#ffb060"/><rect x="450" y="187" width="3" height="3" fill="#00b0f0"/><rect x="450" y="190" width="3" height="3" fill="#ff0000"/><rect x="454" y="175" width="3" height="3" fill="#ff0000"/><rect x="454" y="189" width="3" height="4" fill="#00b0f0"/><rect x="460" y="176" width="3" height="5" fill="#00b0f0"/><rect x="460" y="181" width="3" height="1" fill="#ff0000"/><rect x="460" y="182" width="3" height="6" fill="#00b0f0"/><rect x="460" y="188" width="3" height="2" fill="#ff0000"/><rect x="460" y="190" width="3" height="4" fill="#00b0f0"/><rect x="462" y="185" width="3" height="3" fill="#80ffb0"/><rect x="462" y="188" width="3" height="2" fill="#00b0f0"/><rect x="462" y="190" width="3" height="2" fill="#80ffb0"/><rect x="462" y="192" width="3" height="2" fill="#00b0f0"/><rect x="481" y="187" width="3" height="3" fill="#00b0f0"/><rect x="481" y="190" width="3" height="2" fill="#80ffb0"/><rect x="481" y="192" width="3" height="1" fill="#00b0f0"/><rect x="504" y="189" width="3" height="3" fill="#00b0f0"/><rect x="510" y="190" width="3" height="3" fill="#00b0f0"/><rect x="510" y="193" width="3" height="1" fill="#80ffb0"/><rect x="448" y="197" width="3" height="3" fill="#80ffb0"/><rect x="448" y="201" width="3" height="3" fill="#00b0f0"/><rect x="450" y="200" width="3" height="3" fill="#00b0f0"/><rect x="450" y="203" width="3" height="1" fill="#80ffb0"/><rect x="450" y="206" width="3" height="3" fill="#00b0f0"/><rect x="454" y="200" width="3" height="4" fill="#00b0f0"/><rect x="454" y="204" width="3" height="2" fill="#ff0000"/><rect x="454" y="211" width="3" height="3" fill="#80ffb0"/><rect x="454" y="217" width="3" height="3" fill="#00b0f0"/><rect x="454" y="225" width="3" height="1" fill="#00b0f0"/><rect x="456" y="201" width="3" height="3" fill="#00b0f0"/><rect x="448" y="217" width="3" height="3" fill="#00b0f0"/><rect x="450" y="218" width="3" height="3" fill="#00b0f0"/><rect x="450" y="223" width="3" height="3" fill="#00b0f0"/><rect x="460" y="195" width="3" height="7" fill="#ffb060"/><rect x="460" y="203" width="3" height="1" fill="#ff0000"/><rect x="460" y="204" width="3" height="2" fill="#00b0f0"/><rect x="460" y="207" width="3" height="4" fill="#80ffb0"/><rect x="460" y="212" width="3" height="4" fill="#00b0f0"/><rect x="460" y="217" width="3" height="4" fill="#00b0f0"/><rect x="460" y="221" width="3" height="1" fill="#80ffb0"/><rect x="460" y="222" width="3" height="2" fill="#00b0f0"/><rect x="460" y="224" width="3" height="2" fill="#80ffb0"/><rect x="462" y="194" width="3" height="1" fill="#00b0f0"/><rect x="462" y="195" width="3" height="2" fill="#ff0000"/><rect x="462" y="197" width="3" height="2" fill="#00b0f0"/><rect x="462" y="199" width="3" height="2" fill="#ff0000"/><rect x="462" y="201" width="3" height="1" fill="#00b0f0"/><rect x="462" y="202" width="3" height="1" fill="#ff0000"/><rect x="462" y="203" width="3" height="1" fill="#00b0f0"/><rect x="462" y="204" width="3" height="4" fill="#ff0000"/><rect x="462" y="208" width="3" height="3" fill="#80ffb0"/><rect x="466" y="199" width="3" height="3" fill="#00b0f0"/><rect x="468" y="194" width="3" height="3" fill="#00b0f0"/><rect x="468" y="197" width="3" height="1" fill="#80ffb0"/><rect x="468" y="203" width="3" height="4" fill="#00b0f0"/><rect x="468" y="207" width="3" height="2" fill="#80ffb0"/><rect x="468" y="209" width="3" height="1" fill="#00b0f0"/><rect x="468" y="210" width="3" height="1" fill="#80ffb0"/><rect x="468" y="211" width="3" height="9" fill="#00b0f0"/><rect x="472" y="195" width="3" height="3" fill="#00b0f0"/><rect x="472" y="214" width="3" height="6" fill="#00b0f0"/><rect x="472" y="220" width="3" height="4" fill="#80ffb0"/><rect x="475" y="225" width="3" height="1" fill="#00b0f0"/><rect x="481" y="197" width="3" height="9" fill="#00b0f0"/><rect x="500" y="217" width="3" height="9" fill="#00b0f0"/><rect x="498" y="225" width="3" height="1" fill="#00b0f0"/><rect x="504" y="196" width="3" height="5" fill="#00b0f0"/><rect x="510" y="194" width="3" height="2" fill="#80ffb0"/><rect x="510" y="200" width="3" height="3" fill="#80ffb0"/><rect x="510" y="203" width="3" height="1" fill="#00b0f0"/><rect x="510" y="218" width="3" height="5" fill="#00b0f0"/><rect x="454" y="226" width="3" height="2" fill="#00b0f0"/><rect x="466" y="226" width="3" height="3" fill="#00b0f0"/><rect x="475" y="226" width="3" height="2" fill="#00b0f0"/><rect x="472" y="232" width="3" height="3" fill="#80ffb0"/><rect x="466" y="241" width="3" height="3" fill="#00b0f0"/><rect x="487" y="237" width="3" height="3" fill="#00b0f0"/><rect x="485" y="246" width="3" height="3" fill="#00b0f0"/><rect x="485" y="249" width="3" height="1" fill="#80ffb0"/><rect x="491" y="240" width="3" height="3" fill="#00b0f0"/><rect x="493" y="242" width="3" height="3" fill="#00b0f0"/><rect x="493" y="246" width="3" height="3" fill="#00b0f0"/><rect x="491" y="249" width="3" height="3" fill="#00b0f0"/><rect x="493" y="252" width="3" height="3" fill="#00b0f0"/><rect x="498" y="226" width="3" height="2" fill="#00b0f0"/><rect x="498" y="254" width="3" height="4" fill="#00b0f0"/><rect x="500" y="226" width="3" height="2" fill="#00b0f0"/><rect x="500" y="228" width="3" height="1" fill="#80ffb0"/><rect x="500" y="230" width="3" height="3" fill="#00b0f0"/><rect x="500" y="233" width="3" height="2" fill="#80ffb0"/><rect x="500" y="236" width="3" height="3" fill="#80ffb0"/><rect x="500" y="239" width="3" height="4" fill="#00b0f0"/><rect x="500" y="243" width="3" height="2" fill="#80ffb0"/><rect x="498" y="246" width="3" height="3" fill="#80ffb0"/><rect x="500" y="245" width="3" height="4" fill="#ffb060"/><rect x="500" y="249" width="3" height="2" fill="#00b0f0"/><rect x="500" y="254" width="3" height="4" fill="#00b0f0"/><rect x="504" y="226" width="3" height="3" fill="#00b0f0"/><rect x="504" y="231" width="3" height="4" fill="#00b0f0"/><rect x="504" y="241" width="3" height="3" fill="#00b0f0"/><rect x="504" y="245" width="3" height="3" fill="#00b0f0"/><rect x="504" y="249" width="3" height="3" fill="#80ffb0"/><rect x="504" y="256" width="3" height="2" fill="#80ffb0"/><rect x="506" y="240" width="3" height="5" fill="#00b0f0"/><rect x="506" y="245" width="3" height="2" fill="#ffb060"/><rect x="506" y="247" width="3" height="9" fill="#00b0f0"/><rect x="506" y="256" width="3" height="2" fill="#80ffb0"/><rect x="510" y="226" width="3" height="2" fill="#00b0f0"/><rect x="510" y="228" width="3" height="1" fill="#80ffb0"/><rect x="510" y="233" width="3" height="6" fill="#00b0f0"/><rect x="510" y="244" width="3" height="3" fill="#00b0f0"/><rect x="510" y="247" width="3" height="1" fill="#80ffb0"/><rect x="449" y="276" width="3" height="3" fill="#00b0f0"/><rect x="460" y="259" width="3" height="3" fill="#00b0f0"/><rect x="460" y="263" width="3" height="5" fill="#80ffb0"/><rect x="460" y="270" width="3" height="5" fill="#80ffb0"/><rect x="460" y="275" width="3" height="1" fill="#ffb060"/><rect x="460" y="276" width="3" height="4" fill="#00b0f0"/><rect x="460" y="280" width="3" height="2" fill="#80ffb0"/><rect x="460" y="282" width="3" height="2" fill="#00b0f0"/><rect x="460" y="284" width="3" height="1" fill="#80ffb0"/><rect x="462" y="287" width="3" height="3" fill="#00b0f0"/><rect x="466" y="270" width="3" height="3" fill="#80ffb0"/><rect x="472" y="263" width="3" height="3" fill="#00b0f0"/><rect x="472" y="266" width="3" height="1" fill="#80ffb0"/><rect x="479" y="277" width="3" height="4" fill="#00b0f0"/><rect x="485" y="259" width="3" height="3" fill="#00b0f0"/><rect x="485" y="263" width="3" height="3" fill="#00b0f0"/><rect x="491" y="260" width="3" height="5" fill="#00b0f0"/><rect x="491" y="265" width="3" height="1" fill="#80ffb0"/><rect x="491" y="266" width="3" height="3" fill="#00b0f0"/><rect x="491" y="275" width="3" height="5" fill="#00b0f0"/><rect x="491" y="280" width="3" height="1" fill="#80ffb0"/><rect x="491" y="283" width="3" height="3" fill="#ffb060"/><rect x="491" y="286" width="3" height="2" fill="#80ffb0"/><rect x="491" y="288" width="3" height="2" fill="#00b0f0"/><rect x="493" y="258" width="3" height="3" fill="#80ffb0"/><rect x="493" y="261" width="3" height="1" fill="#ffb060"/><rect x="493" y="266" width="3" height="5" fill="#00b0f0"/><rect x="493" y="271" width="3" height="2" fill="#ffb060"/><rect x="493" y="273" width="3" height="2" fill="#ff0000"/><rect x="493" y="275" width="3" height="2" fill="#ffb060"/><rect x="493" y="277" width="3" height="2" fill="#00b0f0"/><rect x="493" y="279" width="3" height="2" fill="#80ffb0"/><rect x="493" y="282" width="3" height="3" fill="#80ffb0"/><rect x="493" y="285" width="3" height="1" fill="#ffb060"/><rect x="493" y="288" width="3" height="2" fill="#00b0f0"/><rect x="498" y="258" width="3" height="8" fill="#00b0f0"/><rect x="498" y="273" width="3" height="3" fill="#80ffb0"/><rect x="498" y="278" width="3" height="7" fill="#00b0f0"/><rect x="498" y="285" width="3" height="1" fill="#ffb060"/><rect x="498" y="286" width="3" height="3" fill="#00b0f0"/><rect x="500" y="258" width="3" height="7" fill="#00b0f0"/><rect x="500" y="265" width="3" height="2" fill="#ffb060"/><rect x="500" y="267" width="3" height="3" fill="#00b0f0"/><rect x="500" y="270" width="3" height="1" fill="#80ffb0"/><rect x="500" y="271" width="3" height="1" fill="#00b0f0"/><rect x="500" y="272" width="3" height="7" fill="#80ffb0"/><rect x="500" y="279" width="3" height="6" fill="#00b0f0"/><rect x="500" y="285" width="3" height="3" fill="#ffb060"/><rect x="500" y="288" width="3" height="2" fill="#00b0f0"/><rect x="504" y="258" width="3" height="1" fill="#80ffb0"/><rect x="504" y="259" width="3" height="9" fill="#00b0f0"/><rect x="504" y="273" width="3" height="7" fill="#00b0f0"/><rect x="504" y="283" width="3" height="3" fill="#80ffb0"/><rect x="504" y="286" width="3" height="4" fill="#00b0f0"/><rect x="506" y="258" width="3" height="3" fill="#80ffb0"/><rect x="506" y="261" width="3" height="1" fill="#ffb060"/><rect x="506" y="262" width="3" height="5" fill="#80ffb0"/><rect x="506" y="267" width="3" height="1" fill="#00b0f0"/><rect x="506" y="268" width="3" height="1" fill="#ffb060"/><rect x="506" y="269" width="3" height="3" fill="#00b0f0"/><rect x="506" y="272" width="3" height="1" fill="#ffb060"/><rect x="506" y="273" width="3" height="3" fill="#80ffb0"/><rect x="506" y="276" width="3" height="3" fill="#00b0f0"/><rect x="506" y="279" width="3" height="3" fill="#80ffb0"/><rect x="506" y="283" width="3" height="7" fill="#00b0f0"/><rect x="510" y="258" width="3" height="3" fill="#00b0f0"/><rect x="510" y="261" width="3" height="1" fill="#ffb060"/><rect x="510" y="262" width="3" height="3" fill="#80ffb0"/><rect x="510" y="265" width="3" height="3" fill="#00b0f0"/><rect x="510" y="269" width="3" height="5" fill="#00b0f0"/><rect x="510" y="275" width="3" height="1" fill="#ff0000"/><rect x="510" y="276" width="3" height="3" fill="#00b0f0"/><rect x="510" y="279" width="3" height="2" fill="#80ffb0"/><rect x="449" y="290" width="3" height="3" fill="#00b0f0"/><rect x="472" y="295" width="3" height="3" fill="#00b0f0"/><rect x="481" y="293" width="3" height="3" fill="#00b0f0"/><rect x="481" y="296" width="3" height="2" fill="#80ffb0"/><rect x="481" y="298" width="3" height="4" fill="#00b0f0"/><rect x="481" y="302" width="3" height="1" fill="#80ffb0"/><rect x="481" y="303" width="3" height="2" fill="#00b0f0"/><rect x="481" y="305" width="3" height="1" fill="#80ffb0"/><rect x="481" y="306" width="3" height="1" fill="#ffb060"/><rect x="481" y="307" width="3" height="1" fill="#80ffb0"/><rect x="481" y="308" width="3" height="3" fill="#00b0f0"/><rect x="481" y="315" width="3" height="3" fill="#00b0f0"/><rect x="485" y="291" width="3" height="4" fill="#00b0f0"/><rect x="485" y="299" width="3" height="3" fill="#00b0f0"/><rect x="485" y="305" width="3" height="3" fill="#00b0f0"/><rect x="491" y="290" width="3" height="6" fill="#00b0f0"/><rect x="491" y="296" width="3" height="1" fill="#80ffb0"/><rect x="491" y="297" width="3" height="1" fill="#00b0f0"/><rect x="491" y="300" width="3" height="7" fill="#00b0f0"/><rect x="493" y="290" width="3" height="1" fill="#00b0f0"/><rect x="493" y="291" width="3" height="1" fill="#80ffb0"/><rect x="493" y="292" width="3" height="3" fill="#00b0f0"/><rect x="493" y="303" width="3" height="5" fill="#00b0f0"/><rect x="493" y="309" width="3" height="3" fill="#00b0f0"/><rect x="498" y="291" width="3" height="4" fill="#00b0f0"/><rect x="498" y="295" width="3" height="3" fill="#80ffb0"/><rect x="498" y="302" width="3" height="4" fill="#00b0f0"/><rect x="500" y="290" width="3" height="2" fill="#00b0f0"/><rect x="500" y="292" width="3" height="3" fill="#ffb060"/><rect x="500" y="295" width="3" height="1" fill="#00b0f0"/><rect x="500" y="296" width="3" height="1" fill="#ffb060"/><rect x="500" y="297" width="3" height="2" fill="#80ffb0"/><rect x="500" y="299" width="3" height="5" fill="#00b0f0"/><rect x="500" y="304" width="3" height="1" fill="#80ffb0"/><rect x="500" y="305" width="3" height="1" fill="#00b0f0"/><rect x="500" y="306" width="3" height="2" fill="#80ffb0"/><rect x="500" y="314" width="3" height="3" fill="#00b0f0"/><rect x="504" y="300" width="3" height="3" fill="#00b0f0"/><rect x="506" y="292" width="3" height="5" fill="#00b0f0"/><rect x="506" y="299" width="3" height="3" fill="#80ffb0"/><rect x="506" y="302" width="3" height="1" fill="#00b0f0"/><rect x="506" y="304" width="3" height="3" fill="#00b0f0"/><rect x="510" y="291" width="3" height="8" fill="#00b0f0"/><rect x="510" y="300" width="3" height="3" fill="#00b0f0"/><rect x="529" y="153" width="3" height="3" fill="#00b0f0"/><rect x="544" y="155" width="3" height="3" fill="#00b0f0"/><rect x="523" y="160" width="3" height="3" fill="#00b0f0"/><rect x="531" y="160" width="3" height="3" fill="#00b0f0"/><rect x="554" y="160" width="3" height="3" fill="#00b0f0"/><rect x="517" y="166" width="3" height="3" fill="#00b0f0"/><rect x="529" y="165" width="3" height="5" fill="#80ffb0"/><rect x="531" y="165" width="3" height="4" fill="#00b0f0"/><rect x="519" y="170" width="3" height="3" fill="#80ffb0"/><rect x="519" y="173" width="3" height="5" fill="#00b0f0"/><rect x="517" y="177" width="3" height="1" fill="#00b0f0"/><rect x="523" y="175" width="3" height="3" fill="#00b0f0"/><rect x="525" y="172" width="3" height="6" fill="#00b0f0"/><rect x="529" y="172" width="3" height="6" fill="#00b0f0"/><rect x="531" y="170" width="3" height="6" fill="#00b0f0"/><rect x="538" y="176" width="3" height="2" fill="#00b0f0"/><rect x="561" y="167" width="3" height="3" fill="#00b0f0"/><rect x="563" y="166" width="3" height="5" fill="#80ffb0"/><rect x="567" y="169" width="3" height="3" fill="#00b0f0"/><rect x="567" y="172" width="3" height="6" fill="#80ffb0"/><rect x="569" y="175" width="3" height="3" fill="#00b0f0"/><rect x="512" y="178" width="3" height="3" fill="#00b0f0"/><rect x="512" y="187" width="3" height="5" fill="#00b0f0"/><rect x="512" y="193" width="3" height="5" fill="#80ffb0"/><rect x="512" y="200" width="3" height="3" fill="#80ffb0"/><rect x="512" y="203" width="3" height="4" fill="#00b0f0"/><rect x="517" y="178" width="3" height="2" fill="#00b0f0"/><rect x="517" y="189" width="3" height="3" fill="#00b0f0"/><rect x="517" y="196" width="3" height="3" fill="#ffb060"/><rect x="517" y="200" width="3" height="3" fill="#00b0f0"/><rect x="517" y="204" width="3" height="3" fill="#00b0f0"/><rect x="519" y="178" width="3" height="2" fill="#00b0f0"/><rect x="519" y="182" width="3" height="3" fill="#00b0f0"/><rect x="519" y="199" width="3" height="3" fill="#80ffb0"/><rect x="523" y="187" width="3" height="5" fill="#80ffb0"/><rect x="523" y="193" width="3" height="3" fill="#00b0f0"/><rect x="523" y="199" width="3" height="3" fill="#80ffb0"/><rect x="523" y="202" width="3" height="2" fill="#ff0000"/><rect x="523" y="204" width="3" height="3" fill="#00b0f0"/><rect x="525" y="178" width="3" height="2" fill="#80ffb0"/><rect x="525" y="180" width="3" height="3" fill="#00b0f0"/><rect x="525" y="191" width="3" height="3" fill="#80ffb0"/><rect x="525" y="194" width="3" height="2" fill="#00b0f0"/><rect x="525" y="197" width="3" height="3" fill="#ffb060"/><rect x="525" y="200" width="3" height="2" fill="#00b0f0"/><rect x="529" y="178" width="3" height="8" fill="#00b0f0"/><rect x="529" y="187" width="3" height="6" fill="#00b0f0"/><rect x="529" y="194" width="3" height="3" fill="#ff0000"/><rect x="529" y="197" width="3" height="3" fill="#00b0f0"/><rect x="529" y="201" width="3" height="3" fill="#ffb060"/><rect x="529" y="204" width="3" height="2" fill="#00b0f0"/><rect x="531" y="180" width="3" height="3" fill="#80ffb0"/><rect x="531" y="183" width="3" height="2" fill="#ffb060"/><rect x="531" y="187" width="3" height="6" fill="#00b0f0"/><rect x="531" y="195" width="3" height="3" fill="#00b0f0"/><rect x="531" y="198" width="3" height="3" fill="#80ffb0"/><rect x="531" y="203" width="3" height="6" fill="#00b0f0"/><rect x="535" y="182" width="3" height="3" fill="#80ffb0"/><rect x="535" y="201" width="3" height="3" fill="#80ffb0"/><rect x="538" y="178" width="3" height="1" fill="#00b0f0"/><rect x="538" y="190" width="3" height="3" fill="#00b0f0"/><rect x="556" y="192" width="3" height="3" fill="#00b0f0"/><rect x="556" y="196" width="3" height="3" fill="#00b0f0"/><rect x="561" y="187" width="3" height="5" fill="#00b0f0"/><rect x="561" y="193" width="3" height="3" fill="#00b0f0"/><rect x="563" y="182" width="3" height="3" fill="#00b0f0"/><rect x="563" y="187" width="3" height="3" fill="#00b0f0"/><rect x="563" y="193" width="3" height="3" fill="#00b0f0"/><rect x="567" y="178" width="3" height="3" fill="#80ffb0"/><rect x="567" y="183" width="3" height="6" fill="#80ffb0"/><rect x="567" y="189" width="3" height="1" fill="#00b0f0"/><rect x="567" y="193" width="3" height="3" fill="#80ffb0"/><rect x="567" y="196" width="3" height="2" fill="#ff0000"/><rect x="567" y="198" width="3" height="4" fill="#00b0f0"/><rect x="569" y="187" width="3" height="3" fill="#00b0f0"/><rect x="575" y="196" width="3" height="3" fill="#ff0000"/><rect x="544" y="213" width="3" height="3" fill="#00b0f0"/><rect x="575" y="212" width="3" height="3" fill="#00b0f0"/><rect x="512" y="218" width="3" height="5" fill="#00b0f0"/><rect x="512" y="223" width="3" height="3" fill="#80ffb0"/><rect x="512" y="226" width="3" height="2" fill="#00b0f0"/><rect x="512" y="232" width="3" height="3" fill="#80ffb0"/><rect x="512" y="235" width="3" height="4" fill="#00b0f0"/><rect x="512" y="240" width="3" height="2" fill="#80ffb0"/><rect x="517" y="218" width="3" height="4" fill="#00b0f0"/><rect x="517" y="222" width="3" height="1" fill="#ffb060"/><rect x="517" y="223" width="3" height="3" fill="#80ffb0"/><rect x="517" y="226" width="3" height="3" fill="#00b0f0"/><rect x="517" y="240" width="3" height="2" fill="#00b0f0"/><rect x="519" y="233" width="3" height="3" fill="#00b0f0"/><rect x="519" y="237" width="3" height="3" fill="#00b0f0"/><rect x="523" y="223" width="3" height="4" fill="#00b0f0"/><rect x="523" y="232" width="3" height="6" fill="#00b0f0"/><rect x="523" y="238" width="3" height="1" fill="#80ffb0"/><rect x="523" y="241" width="3" height="1" fill="#00b0f0"/><rect x="525" y="217" width="3" height="3" fill="#00b0f0"/><rect x="525" y="220" width="3" height="1" fill="#ffb060"/><rect x="525" y="221" width="3" height="2" fill="#00b0f0"/><rect x="525" y="223" width="3" height="4" fill="#80ffb0"/><rect x="525" y="227" width="3" height="4" fill="#00b0f0"/><rect x="525" y="232" width="3" height="3" fill="#80ffb0"/><rect x="529" y="223" width="3" height="6" fill="#00b0f0"/><rect x="529" y="233" width="3" height="3" fill="#ffb060"/><rect x="529" y="236" width="3" height="1" fill="#00b0f0"/><rect x="529" y="240" width="3" height="2" fill="#00b0f0"/><rect x="531" y="218" width="3" height="5" fill="#00b0f0"/><rect x="531" y="226" width="3" height="3" fill="#00b0f0"/><rect x="531" y="232" width="3" height="3" fill="#ffb060"/><rect x="535" y="220" width="3" height="3" fill="#00b0f0"/><rect x="535" y="226" width="3" height="3" fill="#00b0f0"/><rect x="548" y="233" width="3" height="3" fill="#00b0f0"/><rect x="544" y="240" width="3" height="2" fill="#00b0f0"/><rect x="567" y="218" width="3" height="4" fill="#00b0f0"/><rect x="567" y="232" width="3" height="3" fill="#00b0f0"/><rect x="567" y="235" width="3" height="2" fill="#80ffb0"/><rect x="512" y="242" width="3" height="2" fill="#80ffb0"/><rect x="512" y="244" width="3" height="4" fill="#00b0f0"/><rect x="512" y="248" width="3" height="1" fill="#ffb060"/><rect x="512" y="251" width="3" height="3" fill="#00b0f0"/><rect x="512" y="254" width="3" height="1" fill="#80ffb0"/><rect x="512" y="255" width="3" height="1" fill="#00b0f0"/><rect x="512" y="258" width="3" height="3" fill="#00b0f0"/><rect x="512" y="261" width="3" height="1" fill="#ffb060"/><rect x="512" y="262" width="3" height="2" fill="#80ffb0"/><rect x="512" y="264" width="3" height="3" fill="#00b0f0"/><rect x="512" y="267" width="3" height="1" fill="#80ffb0"/><rect x="512" y="269" width="3" height="5" fill="#00b0f0"/><rect x="517" y="242" width="3" height="2" fill="#00b0f0"/><rect x="517" y="244" width="3" height="3" fill="#ffb060"/><rect x="517" y="247" width="3" height="2" fill="#80ffb0"/><rect x="517" y="249" width="3" height="1" fill="#ff0000"/><rect x="517" y="250" width="3" height="4" fill="#80ffb0"/><rect x="517" y="254" width="3" height="1" fill="#ffb060"/><rect x="517" y="255" width="3" height="1" fill="#80ffb0"/><rect x="517" y="259" width="3" height="6" fill="#00b0f0"/><rect x="517" y="267" width="3" height="5" fill="#80ffb0"/><rect x="517" y="272" width="3" height="2" fill="#00b0f0"/><rect x="519" y="242" width="3" height="3" fill="#ffb060"/><rect x="519" y="245" width="3" height="2" fill="#ff0000"/><rect x="519" y="247" width="3" height="4" fill="#80ffb0"/><rect x="519" y="251" width="3" height="1" fill="#ffb060"/><rect x="519" y="252" width="3" height="2" fill="#80ffb0"/><rect x="519" y="254" width="3" height="1" fill="#ffb060"/><rect x="519" y="255" width="3" height="1" fill="#00b0f0"/><rect x="519" y="264" width="3" height="3" fill="#ffb060"/><rect x="519" y="267" width="3" height="1" fill="#00b0f0"/><rect x="519" y="268" width="3" height="2" fill="#80ffb0"/><rect x="519" y="270" width="3" height="4" fill="#00b0f0"/><rect x="523" y="242" width="3" height="1" fill="#00b0f0"/><rect x="523" y="245" width="3" height="3" fill="#00b0f0"/><rect x="523" y="248" width="3" height="2" fill="#80ffb0"/><rect x="523" y="250" width="3" height="1" fill="#00b0f0"/><rect x="523" y="251" width="3" height="1" fill="#80ffb0"/><rect x="523" y="252" width="3" height="8" fill="#00b0f0"/><rect x="523" y="262" width="3" height="4" fill="#00b0f0"/><rect x="523" y="266" width="3" height="2" fill="#80ffb0"/><rect x="523" y="268" width="3" height="6" fill="#00b0f0"/><rect x="525" y="245" width="3" height="4" fill="#00b0f0"/><rect x="525" y="249" width="3" height="1" fill="#80ffb0"/><rect x="525" y="250" width="3" height="1" fill="#00b0f0"/><rect x="525" y="251" width="3" height="1" fill="#80ffb0"/><rect x="525" y="252" width="3" height="3" fill="#00b0f0"/><rect x="525" y="258" width="3" height="3" fill="#00b0f0"/><rect x="525" y="263" width="3" height="3" fill="#00b0f0"/><rect x="525" y="270" width="3" height="4" fill="#00b0f0"/><rect x="529" y="242" width="3" height="1" fill="#00b0f0"/><rect x="529" y="245" width="3" height="3" fill="#80ffb0"/><rect x="529" y="248" width="3" height="4" fill="#00b0f0"/><rect x="529" y="253" width="3" height="3" fill="#80ffb0"/><rect x="529" y="258" width="3" height="3" fill="#00b0f0"/><rect x="529" y="261" width="3" height="1" fill="#80ffb0"/><rect x="529" y="262" width="3" height="3" fill="#00b0f0"/><rect x="529" y="265" width="3" height="1" fill="#80ffb0"/><rect x="529" y="266" width="3" height="8" fill="#00b0f0"/><rect x="531" y="242" width="3" height="6" fill="#00b0f0"/><rect x="531" y="248" width="3" height="1" fill="#80ffb0"/><rect x="531" y="249" width="3" height="1" fill="#ffb060"/><rect x="531" y="250" width="3" height="1" fill="#00b0f0"/><rect x="531" y="251" width="3" height="1" fill="#ff0000"/><rect x="531" y="252" width="3" height="2" fill="#00b0f0"/><rect x="531" y="254" width="3" height="1" fill="#80ffb0"/><rect x="531" y="255" width="3" height="2" fill="#00b0f0"/><rect x="531" y="259" width="3" height="7" fill="#00b0f0"/><rect x="531" y="266" width="3" height="1" fill="#80ffb0"/><rect x="531" y="267" width="3" height="7" fill="#00b0f0"/><rect x="535" y="247" width="3" height="5" fill="#00b0f0"/><rect x="535" y="253" width="3" height="3" fill="#80ffb0"/><rect x="535" y="256" width="3" height="1" fill="#00b0f0"/><rect x="535" y="260" width="3" height="3" fill="#00b0f0"/><rect x="535" y="263" width="3" height="1" fill="#80ffb0"/><rect x="535" y="270" width="3" height="3" fill="#80ffb0"/><rect x="535" y="273" width="3" height="1" fill="#00b0f0"/><rect x="538" y="258" width="3" height="4" fill="#00b0f0"/><rect x="538" y="269" width="3" height="3" fill="#00b0f0"/><rect x="538" y="273" width="3" height="1" fill="#00b0f0"/><rect x="542" y="245" width="3" height="3" fill="#00b0f0"/><rect x="544" y="242" width="3" height="1" fill="#00b0f0"/><rect x="556" y="259" width="3" height="4" fill="#00b0f0"/><rect x="567" y="245" width="3" height="3" fill="#00b0f0"/><rect x="567" y="253" width="3" height="3" fill="#00b0f0"/><rect x="561" y="273" width="3" height="1" fill="#80ffb0"/><rect x="512" y="275" width="3" height="1" fill="#ff0000"/><rect x="512" y="276" width="3" height="1" fill="#ffb060"/><rect x="512" y="278" width="3" height="4" fill="#00b0f0"/><rect x="512" y="287" width="3" height="7" fill="#00b0f0"/><rect x="512" y="294" width="3" height="1" fill="#80ffb0"/><rect x="512" y="295" width="3" height="3" fill="#00b0f0"/><rect x="512" y="300" width="3" height="6" fill="#00b0f0"/><rect x="517" y="274" width="3" height="1" fill="#00b0f0"/><rect x="517" y="276" width="3" height="3" fill="#00b0f0"/><rect x="517" y="279" width="3" height="2" fill="#ff0000"/><rect x="517" y="283" width="3" height="3" fill="#80ffb0"/><rect x="517" y="287" width="3" height="3" fill="#00b0f0"/><rect x="517" y="292" width="3" height="3" fill="#00b0f0"/><rect x="517" y="295" width="3" height="1" fill="#80ffb0"/><rect x="517" y="302" width="3" height="4" fill="#00b0f0"/><rect x="519" y="279" width="3" height="3" fill="#00b0f0"/><rect x="519" y="282" width="3" height="3" fill="#80ffb0"/><rect x="519" y="286" width="3" height="3" fill="#00b0f0"/><rect x="519" y="291" width="3" height="6" fill="#00b0f0"/><rect x="519" y="300" width="3" height="6" fill="#00b0f0"/><rect x="523" y="274" width="3" height="8" fill="#00b0f0"/><rect x="523" y="283" width="3" height="3" fill="#00b0f0"/><rect x="523" y="291" width="3" height="4" fill="#00b0f0"/><rect x="523" y="303" width="3" height="3" fill="#00b0f0"/><rect x="525" y="274" width="3" height="1" fill="#00b0f0"/><rect x="525" y="279" width="3" height="3" fill="#80ffb0"/><rect x="525" y="283" width="3" height="3" fill="#80ffb0"/><rect x="525" y="289" width="3" height="3" fill="#00b0f0"/><rect x="525" y="294" width="3" height="3" fill="#00b0f0"/><rect x="525" y="299" width="3" height="3" fill="#00b0f0"/><rect x="525" y="303" width="3" height="3" fill="#00b0f0"/><rect x="529" y="274" width="3" height="2" fill="#80ffb0"/><rect x="529" y="279" width="3" height="3" fill="#80ffb0"/><rect x="529" y="291" width="3" height="3" fill="#80ffb0"/><rect x="529" y="304" width="3" height="2" fill="#00b0f0"/><rect x="531" y="274" width="3" height="5" fill="#00b0f0"/><rect x="531" y="279" width="3" height="3" fill="#80ffb0"/><rect x="531" y="289" width="3" height="6" fill="#80ffb0"/><rect x="531" y="295" width="3" height="2" fill="#00b0f0"/><rect x="531" y="304" width="3" height="2" fill="#00b0f0"/><rect x="535" y="274" width="3" height="2" fill="#00b0f0"/><rect x="535" y="282" width="3" height="3" fill="#00b0f0"/><rect x="535" y="285" width="3" height="3" fill="#80ffb0"/><rect x="535" y="292" width="3" height="6" fill="#00b0f0"/><rect x="535" y="298" width="3" height="1" fill="#80ffb0"/><rect x="535" y="301" width="3" height="4" fill="#00b0f0"/><rect x="538" y="274" width="3" height="2" fill="#00b0f0"/><rect x="538" y="283" width="3" height="7" fill="#00b0f0"/><rect x="538" y="290" width="3" height="1" fill="#80ffb0"/><rect x="538" y="291" width="3" height="1" fill="#00b0f0"/><rect x="538" y="292" width="3" height="3" fill="#80ffb0"/><rect x="538" y="295" width="3" height="3" fill="#00b0f0"/><rect x="538" y="302" width="3" height="4" fill="#00b0f0"/><rect x="544" y="294" width="3" height="4" fill="#00b0f0"/><rect x="544" y="304" width="3" height="2" fill="#00b0f0"/><rect x="548" y="292" width="3" height="3" fill="#80ffb0"/><rect x="548" y="295" width="3" height="4" fill="#00b0f0"/><rect x="550" y="294" width="3" height="3" fill="#00b0f0"/><rect x="550" y="297" width="3" height="2" fill="#80ffb0"/><rect x="550" y="299" width="3" height="3" fill="#00b0f0"/><rect x="550" y="303" width="3" height="3" fill="#80ffb0"/><rect x="561" y="274" width="3" height="2" fill="#80ffb0"/><rect x="561" y="292" width="3" height="3" fill="#00b0f0"/><rect x="561" y="304" width="3" height="2" fill="#00b0f0"/><rect x="512" y="306" width="3" height="2" fill="#00b0f0"/><rect x="519" y="306" width="3" height="1" fill="#00b0f0"/><rect x="523" y="306" width="3" height="1" fill="#00b0f0"/><rect x="525" y="306" width="3" height="1" fill="#00b0f0"/><rect x="529" y="306" width="3" height="1" fill="#00b0f0"/><rect x="531" y="306" width="3" height="2" fill="#00b0f0"/><rect x="538" y="306" width="3" height="2" fill="#00b0f0"/><rect x="544" y="306" width="3" height="1" fill="#00b0f0"/><rect x="544" y="307" width="3" height="1" fill="#80ffb0"/><rect x="550" y="306" width="3" height="1" fill="#ff0000"/><rect x="550" y="307" width="3" height="1" fill="#80ffb0"/><rect x="550" y="308" width="3" height="1" fill="#00b0f0"/><rect x="561" y="306" width="3" height="1" fill="#00b0f0"/><rect x="517" y="308" width="3" height="3" fill="#00b0f0"/><rect x="556" y="307" width="3" height="3" fill="#00b0f0"/><rect x="512" y="311" width="3" height="6" fill="#00b0f0"/><rect x="538" y="315" width="3" height="3" fill="#00b0f0"/><rect x="569" y="313" width="3" height="3" fill="#00b0f0"/><rect x="525" y="332" width="3" height="3" fill="#00b0f0"/><rect x="550" y="334" width="3" height="3" fill="#00b0f0"/><rect x="309" y="88" width="3" height="3" fill="#00b0f0"/><rect x="330" y="88" width="3" height="3" fill="#00b0f0"/><rect x="361" y="87" width="3" height="4" fill="#00b0f0"/><rect x="374" y="83" width="3" height="3" fill="#00b0f0"/><rect x="378" y="83" width="3" height="3" fill="#80ffb0"/><rect x="380" y="83" width="3" height="3" fill="#00b0f0"/><rect x="384" y="83" width="3" height="3" fill="#80ffb0"/><rect x="378" y="77" width="3" height="3" fill="#00b0f0"/><rect x="384" y="74" width="3" height="3" fill="#00b0f0"/><rect x="393" y="81" width="3" height="3" fill="#00b0f0"/><rect x="399" y="72" width="3" height="3" fill="#00b0f0"/><rect x="304" y="104" width="3" height="3" fill="#00b0f0"/><rect x="397" y="115" width="5" height="3" fill="#ff0000"/><rect x="403" y="83" width="5" height="3" fill="#00b0f0"/><rect x="409" y="83" width="3" height="3" fill="#ffb060"/><rect x="418" y="75" width="3" height="3" fill="#00b0f0"/><rect x="422" y="88" width="3" height="3" fill="#00b0f0"/><rect x="412" y="93" width="3" height="3" fill="#00b0f0"/><rect x="430" y="83" width="3" height="3" fill="#00b0f0"/><rect x="441" y="76" width="3" height="3" fill="#00b0f0"/><rect x="443" y="67" width="3" height="3" fill="#80ffb0"/><rect x="479" y="72" width="5" height="3" fill="#ff0000"/><rect x="485" y="99" width="5" height="3" fill="#ff0000"/><rect x="412" y="103" width="3" height="8" fill="#00b0f0"/><rect x="409" y="109" width="3" height="3" fill="#00b0f0"/><rect x="409" y="112" width="3" height="1" fill="#80ffb0"/><rect x="409" y="113" width="3" height="1" fill="#00b0f0"/><rect x="422" y="108" width="3" height="3" fill="#00b0f0"/><rect x="443" y="110" width="3" height="3" fill="#00b0f0"/><rect x="430" y="116" width="3" height="3" fill="#00b0f0"/><rect x="409" y="115" width="3" height="3" fill="#00b0f0"/><rect x="412" y="115" width="3" height="3" fill="#ffb060"/><rect x="405" y="118" width="3" height="8" fill="#00b0f0"/><rect x="405" y="126" width="3" height="4" fill="#80ffb0"/><rect x="409" y="121" width="3" height="3" fill="#00b0f0"/><rect x="409" y="124" width="3" height="2" fill="#80ffb0"/><rect x="412" y="127" width="3" height="3" fill="#ffb060"/><rect x="517" y="60" width="3" height="3" fill="#00b0f0"/><rect x="517" y="67" width="5" height="3" fill="#00b0f0"/><rect x="510" y="72" width="3" height="3" fill="#00b0f0"/><rect x="512" y="72" width="3" height="3" fill="#ffb060"/><rect x="655" y="163" width="3" height="3" fill="#00b0f0"/><rect x="662" y="163" width="3" height="3" fill="#00b0f0"/><rect x="619" y="191" width="3" height="3" fill="#00b0f0"/><rect x="580" y="196" width="3" height="3" fill="#80ffb0"/><rect x="645" y="196" width="3" height="3" fill="#ff0000"/><rect x="649" y="196" width="3" height="3" fill="#ff0000"/><rect x="575" y="201" width="3" height="6" fill="#00b0f0"/><rect x="588" y="213" width="3" height="3" fill="#00b0f0"/><rect x="594" y="211" width="3" height="3" fill="#00b0f0"/><rect x="588" y="223" width="3" height="3" fill="#80ffb0"/><rect x="624" y="200" width="3" height="3" fill="#00b0f0"/><rect x="617" y="209" width="3" height="3" fill="#00b0f0"/><rect x="619" y="213" width="3" height="3" fill="#00b0f0"/><rect x="651" y="218" width="3" height="3" fill="#00b0f0"/><rect x="657" y="225" width="3" height="3" fill="#00b0f0"/><rect x="668" y="226" width="5" height="3" fill="#00b0f0"/><rect x="643" y="231" width="5" height="3" fill="#00b0f0"/><rect x="619" y="238" width="3" height="3" fill="#00b0f0"/><rect x="613" y="244" width="3" height="3" fill="#00b0f0"/><rect x="580" y="273" width="3" height="3" fill="#00b0f0"/><rect x="594" y="282" width="3" height="3" fill="#00b0f0"/><rect x="580" y="293" width="3" height="3" fill="#00b0f0"/><rect x="598" y="321" width="3" height="4" fill="#ff0000"/><rect x="598" y="325" width="3" height="9" fill="#00b0f0"/><rect x="601" y="314" width="3" height="3" fill="#80ffb0"/><rect x="601" y="318" width="3" height="3" fill="#00b0f0"/><rect x="601" y="322" width="3" height="2" fill="#ff0000"/><rect x="601" y="324" width="3" height="2" fill="#80ffb0"/><rect x="601" y="326" width="3" height="1" fill="#ffb060"/><rect x="601" y="327" width="3" height="6" fill="#00b0f0"/><rect x="605" y="321" width="3" height="3" fill="#00b0f0"/><rect x="605" y="326" width="3" height="3" fill="#80ffb0"/><rect x="605" y="314" width="3" height="3" fill="#00b0f0"/><rect x="608" y="321" width="3" height="3" fill="#00b0f0"/><rect x="608" y="324" width="3" height="3" fill="#00b0f0"/><rect x="611" y="321" width="3" height="3" fill="#80ffb0"/><rect x="611" y="324" width="3" height="1" fill="#ffb060"/><rect x="611" y="326" width="3" height="6" fill="#00b0f0"/><rect x="611" y="332" width="3" height="2" fill="#80ffb0"/><rect x="613" y="318" width="3" height="8" fill="#00b0f0"/><rect x="613" y="326" width="3" height="1" fill="#ffb060"/><rect x="613" y="327" width="3" height="2" fill="#00b0f0"/><rect x="613" y="329" width="3" height="3" fill="#80ffb0"/><rect x="613" y="332" width="3" height="1" fill="#ffb060"/><rect x="617" y="314" width="3" height="3" fill="#00b0f0"/><rect x="617" y="317" width="3" height="2" fill="#80ffb0"/><rect x="617" y="320" width="3" height="1" fill="#ffb060"/><rect x="617" y="321" width="3" height="3" fill="#00b0f0"/><rect x="617" y="324" width="3" height="1" fill="#ff0000"/><rect x="617" y="325" width="3" height="2" fill="#00b0f0"/><rect x="617" y="327" width="3" height="2" fill="#ff0000"/><rect x="617" y="329" width="3" height="2" fill="#00b0f0"/><rect x="617" y="331" width="3" height="2" fill="#ff0000"/><rect x="617" y="333" width="3" height="1" fill="#80ffb0"/><rect x="619" y="314" width="3" height="3" fill="#ff0000"/><rect x="619" y="317" width="3" height="5" fill="#00b0f0"/><rect x="619" y="322" width="3" height="2" fill="#ffb060"/><rect x="619" y="324" width="3" height="1" fill="#80ffb0"/><rect x="619" y="325" width="3" height="2" fill="#00b0f0"/><rect x="619" y="327" width="3" height="5" fill="#80ffb0"/><rect x="619" y="332" width="3" height="1" fill="#00b0f0"/><rect x="619" y="333" width="3" height="1" fill="#ffb060"/><rect x="624" y="317" width="3" height="3" fill="#00b0f0"/><rect x="624" y="320" width="3" height="1" fill="#ffb060"/><rect x="626" y="321" width="3" height="3" fill="#80ffb0"/><rect x="630" y="313" width="3" height="3" fill="#00b0f0"/><rect x="630" y="316" width="3" height="2" fill="#80ffb0"/><rect x="630" y="318" width="3" height="2" fill="#ff0000"/><rect x="630" y="320" width="3" height="1" fill="#80ffb0"/><rect x="630" y="321" width="3" height="2" fill="#ffb060"/><rect x="630" y="323" width="3" height="1" fill="#80ffb0"/><rect x="630" y="324" width="3" height="7" fill="#00b0f0"/><rect x="630" y="331" width="3" height="2" fill="#80ffb0"/><rect x="632" y="313" width="3" height="5" fill="#80ffb0"/><rect x="632" y="318" width="3" height="1" fill="#00b0f0"/><rect x="632" y="319" width="3" height="2" fill="#80ffb0"/><rect x="632" y="321" width="3" height="2" fill="#00b0f0"/><rect x="632" y="323" width="3" height="2" fill="#ff0000"/><rect x="632" y="325" width="3" height="2" fill="#00b0f0"/><rect x="632" y="327" width="3" height="2" fill="#ff0000"/><rect x="632" y="329" width="3" height="1" fill="#00b0f0"/><rect x="632" y="330" width="3" height="1" fill="#80ffb0"/><rect x="636" y="310" width="3" height="3" fill="#00b0f0"/><rect x="636" y="317" width="3" height="4" fill="#80ffb0"/><rect x="636" y="321" width="3" height="3" fill="#00b0f0"/><rect x="636" y="324" width="3" height="2" fill="#ffb060"/><rect x="636" y="326" width="3" height="6" fill="#00b0f0"/><rect x="636" y="332" width="3" height="1" fill="#80ffb0"/><rect x="638" y="314" width="3" height="3" fill="#00b0f0"/><rect x="638" y="318" width="3" height="5" fill="#00b0f0"/><rect x="638" y="323" width="3" height="1" fill="#ffb060"/><rect x="638" y="324" width="3" height="8" fill="#00b0f0"/><rect x="643" y="314" width="3" height="8" fill="#00b0f0"/><rect x="643" y="322" width="3" height="2" fill="#ffb060"/><rect x="643" y="324" width="3" height="2" fill="#00b0f0"/><rect x="643" y="326" width="3" height="1" fill="#80ffb0"/><rect x="643" y="327" width="3" height="2" fill="#ffb060"/><rect x="643" y="329" width="3" height="1" fill="#80ffb0"/><rect x="643" y="330" width="3" height="2" fill="#ffb060"/><rect x="643" y="332" width="3" height="2" fill="#00b0f0"/><rect x="645" y="303" width="3" height="3" fill="#00b0f0"/><rect x="645" y="306" width="3" height="1" fill="#ffb060"/><rect x="645" y="307" width="3" height="1" fill="#ff0000"/><rect x="645" y="308" width="3" height="1" fill="#ffb060"/><rect x="645" y="309" width="3" height="3" fill="#00b0f0"/><rect x="645" y="314" width="3" height="3" fill="#00b0f0"/><rect x="645" y="317" width="3" height="2" fill="#80ffb0"/><rect x="645" y="319" width="3" height="7" fill="#00b0f0"/><rect x="645" y="326" width="3" height="3" fill="#ffb060"/><rect x="645" y="329" width="3" height="2" fill="#80ffb0"/><rect x="645" y="331" width="3" height="2" fill="#00b0f0"/><rect x="645" y="333" width="3" height="1" fill="#ffb060"/><rect x="645" y="334" width="3" height="1" fill="#00b0f0"/><rect x="649" y="304" width="3" height="5" fill="#80ffb0"/><rect x="649" y="319" width="3" height="6" fill="#80ffb0"/><rect x="649" y="325" width="3" height="2" fill="#00b0f0"/><rect x="649" y="327" width="3" height="1" fill="#80ffb0"/><rect x="651" y="304" width="3" height="3" fill="#80ffb0"/><rect x="651" y="307" width="3" height="2" fill="#ffb060"/><rect x="651" y="309" width="3" height="3" fill="#00b0f0"/><rect x="651" y="314" width="3" height="3" fill="#ffb060"/><rect x="651" y="317" width="3" height="3" fill="#00b0f0"/><rect x="651" y="320" width="3" height="4" fill="#80ffb0"/><rect x="651" y="324" width="3" height="2" fill="#ff0000"/><rect x="651" y="326" width="3" height="2" fill="#80ffb0"/><rect x="651" y="328" width="3" height="4" fill="#00b0f0"/><rect x="655" y="300" width="3" height="3" fill="#80ffb0"/><rect x="655" y="303" width="3" height="1" fill="#00b0f0"/><rect x="655" y="304" width="3" height="1" fill="#ff0000"/><rect x="655" y="305" width="3" height="4" fill="#00b0f0"/><rect x="655" y="314" width="3" height="3" fill="#ff0000"/><rect x="655" y="317" width="3" height="7" fill="#00b0f0"/><rect x="655" y="324" width="3" height="1" fill="#ff0000"/><rect x="655" y="325" width="3" height="7" fill="#00b0f0"/><rect x="655" y="332" width="3" height="1" fill="#ffb060"/><rect x="655" y="335" width="3" height="3" fill="#80ffb0"/><rect x="657" y="299" width="3" height="4" fill="#00b0f0"/><rect x="657" y="303" width="3" height="2" fill="#ffb060"/><rect x="657" y="305" width="3" height="2" fill="#00b0f0"/><rect x="657" y="307" width="3" height="2" fill="#ffb060"/><rect x="657" y="309" width="3" height="3" fill="#00b0f0"/><rect x="657" y="314" width="3" height="12" fill="#00b0f0"/><rect x="657" y="326" width="3" height="3" fill="#80ffb0"/><rect x="657" y="329" width="3" height="3" fill="#ff0000"/><rect x="657" y="332" width="3" height="3" fill="#00b0f0"/><rect x="662" y="302" width="3" height="4" fill="#00b0f0"/><rect x="662" y="306" width="3" height="1" fill="#ffb060"/><rect x="662" y="307" width="3" height="5" fill="#00b0f0"/><rect x="662" y="314" width="3" height="3" fill="#ff0000"/><rect x="662" y="317" width="3" height="5" fill="#00b0f0"/><rect x="662" y="322" width="3" height="3" fill="#ff0000"/><rect x="662" y="325" width="3" height="11" fill="#00b0f0"/><rect x="662" y="297" width="3" height="3" fill="#00b0f0"/><rect x="662" y="300" width="3" height="1" fill="#80ffb0"/><rect x="664" y="301" width="3" height="11" fill="#00b0f0"/><rect x="664" y="317" width="3" height="7" fill="#00b0f0"/><rect x="664" y="324" width="3" height="3" fill="#ffb060"/><rect x="664" y="327" width="3" height="2" fill="#80ffb0"/><rect x="664" y="329" width="3" height="4" fill="#00b0f0"/><rect x="664" y="333" width="3" height="2" fill="#ffb060"/><rect x="668" y="314" width="3" height="13" fill="#00b0f0"/><rect x="668" y="329" width="3" height="3" fill="#00b0f0"/><rect x="668" y="332" width="3" height="4" fill="#80ffb0"/><rect x="670" y="314" width="3" height="4" fill="#00b0f0"/><rect x="670" y="318" width="3" height="2" fill="#ffb060"/><rect x="670" y="320" width="3" height="1" fill="#ff0000"/><rect x="670" y="321" width="3" height="1" fill="#ffb060"/><rect x="670" y="322" width="3" height="2" fill="#80ffb0"/><rect x="670" y="324" width="3" height="5" fill="#80ffb0"/><rect x="94" y="226" width="3" height="3" fill="#00b0f0"/><rect x="103" y="227" width="3" height="3" fill="#00b0f0"/><rect x="109" y="227" width="3" height="3" fill="#00b0f0"/><rect x="115" y="220" width="3" height="3" fill="#00b0f0"/><rect x="115" y="227" width="3" height="3" fill="#00b0f0"/><rect x="115" y="231" width="3" height="3" fill="#00b0f0"/><rect x="126" y="222" width="3" height="3" fill="#00b0f0"/><rect x="128" y="226" width="3" height="3" fill="#00b0f0"/><rect x="138" y="228" width="3" height="6" fill="#00b0f0"/><rect x="145" y="231" width="3" height="3" fill="#00b0f0"/><rect x="157" y="209" width="3" height="3" fill="#00b0f0"/><rect x="191" y="200" width="3" height="3" fill="#00b0f0"/><rect x="197" y="200" width="3" height="4" fill="#00b0f0"/><rect x="204" y="206" width="3" height="3" fill="#00b0f0"/><rect x="208" y="205" width="3" height="3" fill="#00b0f0"/><rect x="214" y="206" width="3" height="3" fill="#00b0f0"/><rect x="229" y="195" width="3" height="3" fill="#80ffb0"/><rect x="239" y="196" width="5" height="3" fill="#ff0000"/><rect x="233" y="201" width="5" height="3" fill="#ff0000"/><rect x="227" y="207" width="3" height="3" fill="#00b0f0"/><rect x="246" y="206" width="3" height="3" fill="#00b0f0"/><rect x="248" y="206" width="3" height="3" fill="#ffb060"/><rect x="252" y="206" width="3" height="3" fill="#00b0f0"/><rect x="258" y="206" width="3" height="3" fill="#00b0f0"/><rect x="185" y="220" width="3" height="1" fill="#ff0000"/><rect x="185" y="217" width="3" height="3" fill="#00b0f0"/><rect x="170" y="220" width="3" height="3" fill="#00b0f0"/><rect x="254" y="217" width="3" height="3" fill="#ff0000"/><rect x="214" y="230" width="3" height="3" fill="#00b0f0"/><rect x="233" y="227" width="3" height="3" fill="#00b0f0"/><rect x="235" y="226" width="3" height="3" fill="#00b0f0"/><rect x="252" y="226" width="3" height="3" fill="#00b0f0"/><rect x="267" y="225" width="3" height="3" fill="#00b0f0"/><rect x="176" y="236" width="3" height="3" fill="#00b0f0"/><rect x="178" y="237" width="3" height="3" fill="#80ffb0"/><rect x="309" y="219" width="3" height="3" fill="#80ffb0"/><rect x="309" y="222" width="3" height="1" fill="#00b0f0"/><rect x="304" y="230" width="3" height="3" fill="#00b0f0"/><rect x="302" y="233" width="3" height="3" fill="#00b0f0"/><rect x="309" y="230" width="3" height="5" fill="#00b0f0"/><rect x="311" y="234" width="3" height="3" fill="#00b0f0"/><rect x="267" y="240" width="3" height="3" fill="#00b0f0"/><rect x="290" y="245" width="3" height="3" fill="#00b0f0"/><rect x="283" y="247" width="3" height="3" fill="#00b0f0"/><rect x="279" y="252" width="3" height="3" fill="#00b0f0"/><rect x="267" y="254" width="3" height="3" fill="#00b0f0"/><rect x="271" y="254" width="3" height="3" fill="#00b0f0"/><rect x="264" y="259" width="3" height="7" fill="#00b0f0"/><rect x="264" y="266" width="3" height="1" fill="#80ffb0"/><rect x="267" y="258" width="3" height="3" fill="#00b0f0"/><rect x="235" y="267" width="3" height="3" fill="#00b0f0"/><rect x="246" y="268" width="3" height="3" fill="#80ffb0"/><rect x="248" y="267" width="3" height="5" fill="#00b0f0"/><rect x="252" y="268" width="3" height="3" fill="#00b0f0"/><rect x="252" y="271" width="3" height="1" fill="#ffb060"/><rect x="254" y="269" width="3" height="3" fill="#80ffb0"/><rect x="258" y="267" width="3" height="5" fill="#00b0f0"/><rect x="258" y="271" width="3" height="1" fill="#80ffb0"/><rect x="260" y="267" width="3" height="6" fill="#00b0f0"/><rect x="241" y="273" width="3" height="6" fill="#00b0f0"/><rect x="241" y="279" width="3" height="1" fill="#80ffb0"/><rect x="239" y="277" width="3" height="4" fill="#00b0f0"/><rect x="239" y="280" width="3" height="1" fill="#80ffb0"/><rect x="260" y="275" width="3" height="4" fill="#00b0f0"/><rect x="254" y="277" width="3" height="3" fill="#00b0f0"/><rect x="233" y="280" width="3" height="3" fill="#00b0f0"/><rect x="246" y="279" width="3" height="7" fill="#00b0f0"/><rect x="248" y="278" width="3" height="8" fill="#00b0f0"/><rect x="252" y="281" width="3" height="3" fill="#80ffb0"/><rect x="260" y="283" width="3" height="3" fill="#00b0f0"/><rect x="241" y="285" width="3" height="3" fill="#00b0f0"/><rect x="216" y="247" width="3" height="3" fill="#80ffb0"/><rect x="191" y="282" width="3" height="6" fill="#00b0f0"/><rect x="189" y="287" width="3" height="3" fill="#80ffb0"/><rect x="191" y="288" width="3" height="1" fill="#80ffb0"/><rect x="195" y="289" width="3" height="3" fill="#80ffb0"/><rect x="189" y="287" width="3" height="4" fill="#80ffb0"/><rect x="189" y="291" width="3" height="2" fill="#00b0f0"/><rect x="189" y="293" width="3" height="2" fill="#ff0000"/><rect x="189" y="295" width="3" height="1" fill="#80ffb0"/><rect x="189" y="296" width="3" height="2" fill="#ff0000"/><rect x="189" y="298" width="3" height="1" fill="#80ffb0"/><rect x="189" y="299" width="3" height="1" fill="#00b0f0"/><rect x="189" y="300" width="3" height="2" fill="#80ffb0"/><rect x="189" y="302" width="3" height="2" fill="#00b0f0"/><rect x="189" y="304" width="3" height="1" fill="#ff0000"/><rect x="189" y="305" width="3" height="1" fill="#80ffb0"/><rect x="189" y="306" width="3" height="1" fill="#ffb060"/><rect x="189" y="307" width="3" height="1" fill="#00b0f0"/><rect x="191" y="282" width="3" height="6" fill="#00b0f0"/><rect x="191" y="288" width="3" height="1" fill="#80ffb0"/><rect x="191" y="289" width="3" height="5" fill="#00b0f0"/><rect x="191" y="294" width="3" height="1" fill="#80ffb0"/><rect x="191" y="295" width="3" height="2" fill="#00b0f0"/><rect x="191" y="297" width="3" height="1" fill="#ff0000"/><rect x="191" y="299" width="3" height="4" fill="#00b0f0"/><rect x="191" y="303" width="3" height="2" fill="#ffb060"/><rect x="191" y="305" width="3" height="1" fill="#80ffb0"/><rect x="191" y="306" width="3" height="1" fill="#ffb060"/><rect x="191" y="307" width="3" height="1" fill="#ff0000"/><rect x="191" y="309" width="3" height="3" fill="#00b0f0"/><rect x="195" y="289" width="3" height="4" fill="#80ffb0"/><rect x="195" y="293" width="3" height="4" fill="#00b0f0"/><rect x="195" y="297" width="3" height="1" fill="#ffb060"/><rect x="195" y="298" width="3" height="5" fill="#00b0f0"/><rect x="195" y="303" width="3" height="1" fill="#80ffb0"/><rect x="195" y="304" width="3" height="1" fill="#00b0f0"/><rect x="195" y="305" width="3" height="2" fill="#80ffb0"/><rect x="195" y="308" width="3" height="3" fill="#00b0f0"/><rect x="197" y="296" width="3" height="7" fill="#00b0f0"/><rect x="197" y="303" width="3" height="1" fill="#80ffb0"/><rect x="197" y="304" width="3" height="1" fill="#00b0f0"/><rect x="197" y="305" width="3" height="2" fill="#80ffb0"/><rect x="201" y="300" width="3" height="4" fill="#80ffb0"/><rect x="201" y="304" width="3" height="1" fill="#00b0f0"/><rect x="201" y="305" width="3" height="1" fill="#ffb060"/><rect x="201" y="306" width="3" height="1" fill="#80ffb0"/><rect x="201" y="307" width="3" height="4" fill="#00b0f0"/><rect x="204" y="300" width="3" height="3" fill="#ffb060"/><rect x="204" y="303" width="3" height="2" fill="#80ffb0"/><rect x="204" y="305" width="3" height="2" fill="#00b0f0"/><rect x="204" y="307" width="3" height="1" fill="#ffb060"/><rect x="204" y="308" width="3" height="4" fill="#00b0f0"/><rect x="208" y="305" width="3" height="3" fill="#ff0000"/><rect x="208" y="309" width="3" height="2" fill="#80ffb0"/><rect x="210" y="304" width="3" height="3" fill="#00b0f0"/><rect x="210" y="307" width="3" height="1" fill="#80ffb0"/><rect x="210" y="308" width="3" height="4" fill="#00b0f0"/><rect x="214" y="299" width="3" height="5" fill="#00b0f0"/><rect x="214" y="304" width="3" height="2" fill="#80ffb0"/><rect x="214" y="306" width="3" height="3" fill="#00b0f0"/><rect x="216" y="302" width="3" height="3" fill="#80ffb0"/><rect x="216" y="305" width="3" height="1" fill="#00b0f0"/><rect x="216" y="306" width="3" height="2" fill="#80ffb0"/><rect x="220" y="299" width="3" height="4" fill="#80ffb0"/><rect x="220" y="303" width="3" height="1" fill="#ffb060"/><rect x="220" y="304" width="3" height="2" fill="#00b0f0"/><rect x="220" y="306" width="3" height="1" fill="#ffb060"/><rect x="220" y="307" width="3" height="1" fill="#80ffb0"/><rect x="222" y="295" width="3" height="3" fill="#00b0f0"/><rect x="222" y="298" width="3" height="1" fill="#ff0000"/><rect x="222" y="299" width="3" height="1" fill="#80ffb0"/><rect x="222" y="300" width="3" height="2" fill="#00b0f0"/><rect x="222" y="302" width="3" height="1" fill="#80ffb0"/><rect x="222" y="303" width="3" height="2" fill="#00b0f0"/><rect x="222" y="305" width="3" height="3" fill="#80ffb0"/><rect x="222" y="308" width="3" height="3" fill="#00b0f0"/><rect x="227" y="299" width="3" height="4" fill="#80ffb0"/><rect x="227" y="303" width="3" height="5" fill="#00b0f0"/><rect x="229" y="299" width="3" height="3" fill="#80ffb0"/><rect x="229" y="302" width="3" height="1" fill="#00b0f0"/><rect x="229" y="303" width="3" height="1" fill="#ff0000"/><rect x="229" y="304" width="3" height="1" fill="#80ffb0"/><rect x="229" y="305" width="3" height="2" fill="#ffb060"/><rect x="229" y="308" width="3" height="3" fill="#80ffb0"/><rect x="233" y="299" width="3" height="9" fill="#00b0f0"/><rect x="235" y="288" width="3" height="5" fill="#00b0f0"/><rect x="235" y="293" width="3" height="2" fill="#ffb060"/><rect x="235" y="295" width="3" height="1" fill="#00b0f0"/><rect x="235" y="296" width="3" height="1" fill="#ff0000"/><rect x="235" y="297" width="3" height="2" fill="#80ffb0"/><rect x="235" y="300" width="3" height="5" fill="#80ffb0"/><rect x="235" y="305" width="3" height="6" fill="#00b0f0"/><rect x="239" y="286" width="3" height="11" fill="#00b0f0"/><rect x="241" y="289" width="3" height="9" fill="#00b0f0"/><rect x="241" y="301" width="3" height="3" fill="#80ffb0"/><rect x="185" y="309" width="3" height="3" fill="#80ffb0"/><rect x="185" y="314" width="3" height="3" fill="#ffb060"/><rect x="185" y="317" width="3" height="4" fill="#00b0f0"/><rect x="185" y="321" width="3" height="1" fill="#ffb060"/><rect x="185" y="322" width="3" height="1" fill="#80ffb0"/><rect x="185" y="323" width="3" height="1" fill="#ffb060"/><rect x="185" y="324" width="3" height="5" fill="#80ffb0"/><rect x="185" y="329" width="3" height="2" fill="#00b0f0"/><rect x="183" y="330" width="3" height="3" fill="#00b0f0"/><rect x="189" y="318" width="3" height="3" fill="#80ffb0"/><rect x="189" y="321" width="3" height="1" fill="#00b0f0"/><rect x="189" y="324" width="3" height="5" fill="#00b0f0"/><rect x="191" y="308" width="3" height="1" fill="#ffb060"/><rect x="191" y="313" width="3" height="3" fill="#ff0000"/><rect x="191" y="316" width="3" height="1" fill="#80ffb0"/><rect x="191" y="317" width="3" height="1" fill="#00b0f0"/><rect x="204" y="314" width="3" height="3" fill="#00b0f0"/><rect x="214" y="314" width="3" height="4" fill="#80ffb0"/><rect x="214" y="318" width="3" height="2" fill="#00b0f0"/><rect x="222" y="315" width="3" height="3" fill="#00b0f0"/><rect x="69" y="279" width="3" height="5" fill="#00b0f0"/><rect x="69" y="287" width="3" height="3" fill="#ffb060"/><rect x="69" y="290" width="3" height="3" fill="#00b0f0"/><rect x="69" y="293" width="3" height="1" fill="#80ffb0"/><rect x="69" y="294" width="3" height="6" fill="#ffb060"/><rect x="69" y="300" width="3" height="2" fill="#ff0000"/><rect x="69" y="302" width="3" height="2" fill="#80ffb0"/><rect x="71" y="279" width="3" height="3" fill="#00b0f0"/><rect x="71" y="288" width="3" height="3" fill="#00b0f0"/><rect x="71" y="291" width="3" height="1" fill="#80ffb0"/><rect x="71" y="292" width="3" height="4" fill="#00b0f0"/><rect x="71" y="296" width="3" height="1" fill="#80ffb0"/><rect x="71" y="297" width="3" height="2" fill="#00b0f0"/><rect x="71" y="299" width="3" height="3" fill="#ff0000"/><rect x="71" y="302" width="3" height="2" fill="#ffb060"/><rect x="75" y="289" width="3" height="3" fill="#ffb060"/><rect x="75" y="292" width="3" height="1" fill="#80ffb0"/><rect x="75" y="293" width="3" height="1" fill="#00b0f0"/><rect x="75" y="294" width="3" height="1" fill="#80ffb0"/><rect x="75" y="295" width="3" height="1" fill="#ffb060"/><rect x="75" y="299" width="3" height="3" fill="#ffb060"/><rect x="75" y="302" width="3" height="1" fill="#00b0f0"/><rect x="75" y="303" width="3" height="1" fill="#ffb060"/><rect x="78" y="289" width="3" height="3" fill="#80ffb0"/><rect x="78" y="292" width="3" height="1" fill="#ffb060"/><rect x="78" y="293" width="3" height="1" fill="#80ffb0"/><rect x="78" y="294" width="3" height="3" fill="#00b0f0"/><rect x="78" y="297" width="3" height="1" fill="#ff0000"/><rect x="78" y="298" width="3" height="4" fill="#00b0f0"/><rect x="78" y="302" width="3" height="1" fill="#ffb060"/><rect x="78" y="303" width="3" height="1" fill="#00b0f0"/><rect x="82" y="293" width="3" height="3" fill="#00b0f0"/><rect x="82" y="297" width="3" height="3" fill="#00b0f0"/><rect x="82" y="300" width="3" height="4" fill="#80ffb0"/><rect x="84" y="301" width="3" height="3" fill="#00b0f0"/><rect x="69" y="304" width="3" height="1" fill="#ff0000"/><rect x="69" y="305" width="3" height="3" fill="#80ffb0"/><rect x="69" y="308" width="3" height="1" fill="#ff0000"/><rect x="69" y="319" width="3" height="3" fill="#00b0f0"/><rect x="69" y="322" width="3" height="3" fill="#80ffb0"/><rect x="69" y="325" width="3" height="1" fill="#ff0000"/><rect x="69" y="326" width="3" height="1" fill="#ffb060"/><rect x="69" y="327" width="3" height="5" fill="#00b0f0"/><rect x="69" y="332" width="3" height="2" fill="#80ffb0"/><rect x="71" y="304" width="3" height="2" fill="#80ffb0"/><rect x="71" y="306" width="3" height="1" fill="#00b0f0"/><rect x="71" y="307" width="3" height="1" fill="#80ffb0"/><rect x="71" y="308" width="3" height="1" fill="#00b0f0"/><rect x="71" y="314" width="3" height="4" fill="#80ffb0"/><rect x="71" y="318" width="3" height="3" fill="#ffb060"/><rect x="71" y="321" width="3" height="3" fill="#80ffb0"/><rect x="71" y="324" width="3" height="2" fill="#ffb060"/><rect x="71" y="326" width="3" height="3" fill="#ff0000"/><rect x="71" y="329" width="3" height="3" fill="#ffb060"/><rect x="71" y="332" width="3" height="1" fill="#00b0f0"/><rect x="75" y="304" width="3" height="1" fill="#80ffb0"/><rect x="75" y="305" width="3" height="1" fill="#ff0000"/><rect x="75" y="306" width="3" height="2" fill="#00b0f0"/><rect x="75" y="308" width="3" height="1" fill="#ffb060"/><rect x="75" y="309" width="3" height="4" fill="#00b0f0"/><rect x="75" y="314" width="3" height="6" fill="#80ffb0"/><rect x="75" y="321" width="3" height="3" fill="#ffb060"/><rect x="75" y="324" width="3" height="2" fill="#80ffb0"/><rect x="75" y="326" width="3" height="3" fill="#00b0f0"/><rect x="78" y="304" width="3" height="2" fill="#80ffb0"/><rect x="78" y="306" width="3" height="2" fill="#00b0f0"/><rect x="78" y="308" width="3" height="1" fill="#ffb060"/><rect x="78" y="309" width="3" height="7" fill="#00b0f0"/><rect x="78" y="316" width="3" height="1" fill="#ffb060"/><rect x="78" y="317" width="3" height="4" fill="#80ffb0"/><rect x="78" y="321" width="3" height="6" fill="#00b0f0"/><rect x="78" y="327" width="3" height="2" fill="#ff0000"/><rect x="78" y="329" width="3" height="3" fill="#00b0f0"/><rect x="82" y="304" width="3" height="1" fill="#00b0f0"/><rect x="82" y="306" width="3" height="6" fill="#00b0f0"/><rect x="82" y="314" width="3" height="3" fill="#00b0f0"/><rect x="82" y="318" width="3" height="3" fill="#80ffb0"/><rect x="82" y="321" width="3" height="5" fill="#00b0f0"/><rect x="82" y="326" width="3" height="1" fill="#80ffb0"/><rect x="82" y="327" width="3" height="5" fill="#00b0f0"/><rect x="84" y="304" width="3" height="1" fill="#ff0000"/><rect x="84" y="305" width="3" height="2" fill="#ffb060"/><rect x="84" y="308" width="3" height="1" fill="#ff0000"/><rect x="84" y="309" width="3" height="3" fill="#80ffb0"/><rect x="84" y="314" width="3" height="3" fill="#00b0f0"/><rect x="84" y="317" width="3" height="3" fill="#80ffb0"/><rect x="84" y="320" width="3" height="1" fill="#00b0f0"/><rect x="84" y="321" width="3" height="3" fill="#80ffb0"/><rect x="84" y="324" width="3" height="2" fill="#00b0f0"/><rect x="84" y="326" width="3" height="1" fill="#80ffb0"/><rect x="84" y="329" width="3" height="3" fill="#00b0f0"/><rect x="88" y="309" width="3" height="3" fill="#80ffb0"/><rect x="88" y="314" width="3" height="3" fill="#00b0f0"/><rect x="88" y="317" width="3" height="3" fill="#80ffb0"/><rect x="88" y="320" width="3" height="4" fill="#ffb060"/><rect x="88" y="324" width="3" height="5" fill="#00b0f0"/><rect x="90" y="314" width="3" height="6" fill="#00b0f0"/><rect x="90" y="320" width="3" height="1" fill="#80ffb0"/><rect x="90" y="321" width="3" height="3" fill="#00b0f0"/><rect x="90" y="324" width="3" height="2" fill="#80ffb0"/><rect x="90" y="326" width="3" height="3" fill="#00b0f0"/><rect x="246" y="286" width="3" height="2" fill="#00b0f0"/><rect x="246" y="288" width="3" height="2" fill="#80ffb0"/><rect x="246" y="290" width="3" height="1" fill="#ffb060"/><rect x="246" y="291" width="3" height="4" fill="#80ffb0"/><rect x="246" y="295" width="3" height="1" fill="#00b0f0"/><rect x="252" y="287" width="3" height="6" fill="#00b0f0"/><rect x="252" y="295" width="3" height="3" fill="#00b0f0"/><rect x="254" y="291" width="3" height="4" fill="#00b0f0"/><rect x="241" y="304" width="3" height="1" fill="#00b0f0"/><rect x="367" y="316" width="3" height="3" fill="#00b0f0"/><rect x="435" y="258" width="3" height="3" fill="#00b0f0"/><rect x="441" y="289" width="3" height="3" fill="#80ffb0"/><rect x="386" y="309" width="3" height="3" fill="#00b0f0"/><rect x="409" y="316" width="3" height="3" fill="#00b0f0"/><rect x="166" y="301" width="3" height="3" fill="#00b0f0"/><rect x="172" y="324" width="3" height="3" fill="#00b0f0"/><rect x="580" y="303" width="3" height="4" fill="#00b0f0"/><rect x="580" y="307" width="3" height="1" fill="#ffb060"/><rect x="586" y="311" width="3" height="3" fill="#00b0f0"/><rect x="651" y="295" width="3" height="3" fill="#00b0f0"/><rect x="331" y="167" width="3" height="1" fill="#ffb060"/></g>
<path d="M68.5 45.5H673.5V347.5H68.5ZM68.5 347.5v4.5M68.5 45.5v-4.5M118.5 347.5v4.5M118.5 45.5v-4.5M169.5 347.5v4.5M169.5 45.5v-4.5M219.5 347.5v4.5M219.5 45.5v-4.5M270.5 347.5v4.5M270.5 45.5v-4.5M320.5 347.5v4.5M320.5 45.5v-4.5M371.5 347.5v4.5M371.5 45.5v-4.5M421.5 347.5v4.5M421.5 45.5v-4.5M471.5 347.5v4.5M471.5 45.5v-4.5M522.5 347.5v4.5M522.5 45.5v-4.5M572.5 347.5v4.5M572.5 45.5v-4.5M623.5 347.5v4.5M623.5 45.5v-4.5M673.5 347.5v4.5M673.5 45.5v-4.5M68.5 347.5h-4.5M673.5 347.5h4.5M68.5 325.5h-4.5M673.5 325.5h4.5M68.5 304.5h-4.5M673.5 304.5h4.5M68.5 282.5h-4.5M673.5 282.5h4.5M68.5 261.5h-4.5M673.5 261.5h4.5M68.5 239.5h-4.5M673.5 239.5h4.5M68.5 218.5h-4.5M673.5 218.5h4.5M68.5 196.5h-4.5M673.5 196.5h4.5M68.5 174.5h-4.5M673.5 174.5h4.5M68.5 153.5h-4.5M673.5 153.5h4.5M68.5 131.5h-4.5M673.5 131.5h4.5M68.5 110.5h-4.5M673.5 110.5h4.5M68.5 88.5h-4.5M673.5 88.5h4.5M68.5 67.5h-4.5M673.5 67.5h4.5M68.5 45.5h-4.5M673.5 45.5h4.5" stroke="#000" stroke-width="1" fill="none" shape-rendering="crispEdges"/>
<text x="67.2" y="369.5" text-anchor="middle" letter-spacing="-0.9">00</text>
<text x="117.6" y="369.5" text-anchor="middle" letter-spacing="-0.9">02</text>
<text x="168.0" y="369.5" text-anchor="middle" letter-spacing="-0.9">04</text>
<text x="218.4" y="369.5" text-anchor="middle" letter-spacing="-0.9">06</text>
<text x="268.9" y="369.5" text-anchor="middle" letter-spacing="-0.9">08</text>
<text x="319.3" y="369.5" text-anchor="middle" letter-spacing="-0.9">10</text>
<text x="369.7" y="369.5" text-anchor="middle" letter-spacing="-0.9">12</text>
<text x="420.1" y="369.5" text-anchor="middle" letter-spacing="-0.9">14</text>
<text x="470.5" y="369.5" text-anchor="middle" letter-spacing="-0.9">16</text>
<text x="521.0" y="369.5" text-anchor="middle" letter-spacing="-0.9">18</text>
<text x="571.4" y="369.5" text-anchor="middle" letter-spacing="-0.9">20</text>
<text x="621.8" y="369.5" text-anchor="middle" letter-spacing="-0.9">22</text>
<text x="672.2" y="369.5" text-anchor="middle" letter-spacing="-0.9">00</text>
<text x="55" y="350.7" text-anchor="end">1</text>
<text x="55" y="329.1" text-anchor="end">2</text>
<text x="55" y="307.6" text-anchor="end">3</text>
<text x="55" y="286.0" text-anchor="end">4</text>
<text x="55" y="264.4" text-anchor="end">5</text>
<text x="55" y="242.8" text-anchor="end">6</text>
<text x="55" y="221.3" text-anchor="end">7</text>
<text x="55" y="199.7" text-anchor="end">8</text>
<text x="55" y="178.1" text-anchor="end">9</text>
<text x="55" y="156.6" text-anchor="end">10</text>
<text x="55" y="135.0" text-anchor="end">11</text>
<text x="55" y="113.4" text-anchor="end">12</text>
<text x="55" y="91.8" text-anchor="end">13</text>
<text x="55" y="70.3" text-anchor="end">14</text>
<text x="55" y="48.7" text-anchor="end">15</text>
<text x="369.5" y="27" text-anchor="middle">2025-11-12</text>
<text x="370" y="392" text-anchor="middle">UT Time / hrs</text>
<text transform="translate(17,195) rotate(-90)" text-anchor="middle">Frequency / MHz</text>
<rect x="692.5" y="288.00" width="30.0" height="59.50" fill="#8000ff" shape-rendering="crispEdges"/>
<rect x="692.5" y="228.00" width="30.0" height="60.00" fill="#00b0f0" shape-rendering="crispEdges"/>
<rect x="692.5" y="167.00" width="30.0" height="61.00" fill="#80ffb0" shape-rendering="crispEdges"/>
<rect x="692.5" y="107.00" width="30.0" height="60.00" fill="#ffb060" shape-rendering="crispEdges"/>
<rect x="692.5" y="45.50" width="30.0" height="61.50" fill="#ff0000" shape-rendering="crispEdges"/>
<rect x="692.5" y="45.5" width="30.0" height="302.0" fill="none" stroke="#000" shape-rendering="crispEdges"/>
<text x="735" y="351.1">6</text>
<text x="735" y="290.7">9</text>
<text x="735" y="230.3">12</text>
<text x="735" y="169.9">15</text>
<text x="735" y="109.5">18</text>
<text x="735" y="49.1">21</text>
<text transform="translate(764.5,195) rotate(-90)" text-anchor="middle">Signal to Noise Ratio SNR / dB</text>
</svg></body></html>
